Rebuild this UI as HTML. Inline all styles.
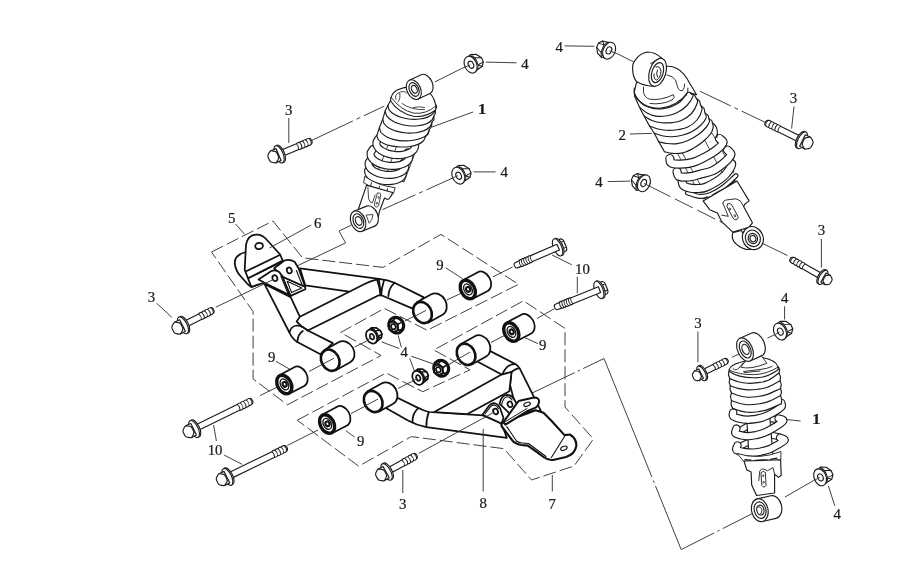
<!DOCTYPE html>
<html><head><meta charset="utf-8"><title>Suspension arm and shock absorber parts diagram</title>
<style>
html,body{margin:0;padding:0;background:#fff;}
svg{display:block;will-change:transform;font-family:"Liberation Serif","DejaVu Serif",serif;fill:#1a1a1a;}
</style></head>
<body>
<svg width="914" height="588" viewBox="0 0 914 588">
<rect x="0" y="0" width="914" height="588" fill="#fff" stroke="none"/>
<polygon points="211.5,252.0 273.0,221.0 302.5,257.8 383.0,267.4 441.0,234.4 518.5,284.3 427.2,330.3 384.4,308.4 340.6,332.5 381.1,355.5 287.4,404.8 253.1,378.9 253.1,311.6" fill="none" stroke="#363636" stroke-width="0.95" stroke-linejoin="round" stroke-dasharray="13 4"/>
<polygon points="297.3,420.2 386.1,373.0 422.8,391.7 470.0,369.8 433.8,350.0 523.5,300.8 565.0,328.4 565.0,407.0 593.4,439.0 574.0,466.0 531.5,480.0 504.0,448.7 411.3,436.6 358.7,466.2" fill="none" stroke="#363636" stroke-width="0.95" stroke-linejoin="round" stroke-dasharray="13 4"/>
<line x1="311.3" y1="140.6" x2="384.3" y2="106.1" stroke="#363636" stroke-width="0.95" stroke-dasharray="46 4 4 4"/>
<line x1="435.1" y1="81.8" x2="461.6" y2="68.5" stroke="#363636" stroke-width="0.95"/>
<line x1="382.6" y1="209.6" x2="452.5" y2="178.1" stroke="#363636" stroke-width="0.95" stroke-dasharray="36 4 4 4"/>
<polyline points="351.5,225.1 339.0,231.0 345.6,242.9 297.0,266.0" fill="none" stroke="#363636" stroke-width="0.95" stroke-linejoin="round"/>
<line x1="260.0" y1="395.6" x2="277.1" y2="387.1" stroke="#363636" stroke-width="0.95"/>
<line x1="309.2" y1="371.4" x2="330.2" y2="360.2" stroke="#363636" stroke-width="0.95"/>
<line x1="354.5" y1="347.1" x2="366.3" y2="341.2" stroke="#363636" stroke-width="0.95"/>
<line x1="404.8" y1="321.0" x2="422.5" y2="311.9" stroke="#363636" stroke-width="0.95"/>
<line x1="446.8" y1="300.0" x2="460.6" y2="293.5" stroke="#363636" stroke-width="0.95"/>
<line x1="492.9" y1="276.9" x2="512.6" y2="267.0" stroke="#363636" stroke-width="0.95"/>
<line x1="287.4" y1="445.4" x2="318.1" y2="430.0" stroke="#363636" stroke-width="0.95"/>
<line x1="351.0" y1="413.6" x2="374.0" y2="401.5" stroke="#363636" stroke-width="0.95"/>
<line x1="398.2" y1="388.4" x2="413.5" y2="380.7" stroke="#363636" stroke-width="0.95"/>
<line x1="448.4" y1="364.8" x2="466.1" y2="354.3" stroke="#363636" stroke-width="0.95"/>
<line x1="491.0" y1="342.5" x2="504.8" y2="335.3" stroke="#363636" stroke-width="0.95"/>
<line x1="536.8" y1="318.6" x2="554.3" y2="308.7" stroke="#363636" stroke-width="0.95"/>
<line x1="518.7" y1="399.5" x2="604.0" y2="358.5" stroke="#363636" stroke-width="0.95" stroke-dasharray="62 3.5 2.5 3.5 100"/>
<line x1="604.0" y1="358.5" x2="681.2" y2="549.6" stroke="#363636" stroke-width="0.95" stroke-dasharray="128 3.5 2.5 3.5 200"/>
<line x1="681.2" y1="549.6" x2="753.5" y2="513.0" stroke="#363636" stroke-width="0.95" stroke-dasharray="37 3.5 2.5 3.5 100"/>
<line x1="617.9" y1="54.0" x2="633.2" y2="61.7" stroke="#363636" stroke-width="0.95"/>
<line x1="700.1" y1="91.3" x2="765.5" y2="122.5" stroke="#363636" stroke-width="0.95" stroke-dasharray="34 4 4 4"/>
<line x1="652.6" y1="187.7" x2="745.0" y2="234.0" stroke="#363636" stroke-width="0.95" stroke-dasharray="20 5"/>
<line x1="753.5" y1="239.1" x2="787.5" y2="255.5" stroke="#363636" stroke-width="0.95"/>
<line x1="731.9" y1="357.3" x2="746.1" y2="350.7" stroke="#363636" stroke-width="0.95"/>
<line x1="767.4" y1="338.1" x2="775.6" y2="334.3" stroke="#363636" stroke-width="0.95"/>
<line x1="785.0" y1="497.0" x2="813.5" y2="480.6" stroke="#363636" stroke-width="0.95"/>
<path d="M300,268.4 L378.8,278.9 Q388,280 394.5,282.8 L423.8,297.4 L412.7,308.6 L381.4,295.3 L349.2,291.7 L305.3,285.4 Z" fill="#fff" stroke="#111" stroke-width="1.75" stroke-linejoin="round" stroke-linecap="round" />
<path d="M264.4,283.9 L289.4,332.5 Q292,338.5 297.3,342 L320.4,354.3 L332.9,343.1 L307.8,330.5 L299.9,316.8 L290.7,297.1 Z" fill="#fff" stroke="#111" stroke-width="1.75" stroke-linejoin="round" stroke-linecap="round" />
<path d="M299.9,316.8 L365.6,283.5 Q371,281 375.5,279.9 L378.8,278.9 L381,295.3 L378.8,295.3 L307.8,330.5 Q301,327 296.6,321.4 Z" fill="#fff" stroke="#111" stroke-width="1.75" stroke-linejoin="round" stroke-linecap="round" />
<path d="M377,279.6 Q380,287 380.5,295 M384,280.5 Q381.5,288 381.2,295" fill="none" stroke="#111" stroke-width="1.75" stroke-linejoin="round" stroke-linecap="round" />
<path d="M394.5,282.8 Q388.5,288 388.4,296.1" fill="none" stroke="#111" stroke-width="1.75" stroke-linejoin="round" stroke-linecap="round" />
<path d="M289.4,332.5 Q291,326 297,325.5 Q303,326 307.8,330.5" fill="none" stroke="#111" stroke-width="1.75" stroke-linejoin="round" stroke-linecap="round" />
<path d="M297.3,341.8 Q298,334 302.8,331" fill="none" stroke="#111" stroke-width="1.75" stroke-linejoin="round" stroke-linecap="round" />
<g transform="translate(422.5 312.5) rotate(-29.0)">
<path d="M0,-11.6 L16.5,-11.6 A9.3,11.6 0 0 1 16.5,11.6 L0,11.6 Z" fill="#fff" stroke="#111" stroke-width="1.75" stroke-linejoin="round" stroke-linecap="round" />
<ellipse cx="0.0" cy="0.0" rx="8.8" ry="11.1" transform="rotate(0.0 0.0 0.0)" fill="#fff" stroke="#111" stroke-width="2.6"/>
</g>
<g transform="translate(330.2 360.2) rotate(-29.0)">
<path d="M0,-11.6 L16.5,-11.6 A9.3,11.6 0 0 1 16.5,11.6 L0,11.6 Z" fill="#fff" stroke="#111" stroke-width="1.75" stroke-linejoin="round" stroke-linecap="round" />
<ellipse cx="0.0" cy="0.0" rx="8.8" ry="11.1" transform="rotate(0.0 0.0 0.0)" fill="#fff" stroke="#111" stroke-width="2.6"/>
</g>
<path d="M246,252 Q234,255 234.8,264 Q236,271 240,275.5 L248,284.5 L251.5,287 L258.5,284.5" fill="#fff" stroke="#111" stroke-width="1.75" stroke-linejoin="round" stroke-linecap="round" />
<path d="M248,278.2 L282.8,261.1 L288,262 L264,283 L257.8,284.7 L251.3,286.9 Z" fill="#fff" stroke="#111" stroke-width="1.75" stroke-linejoin="round" stroke-linecap="round" />
<path d="M282,276.5 L305.1,286.7 L305.4,289.2 L290.6,295.9 Z" fill="#fff" stroke="#111" stroke-width="1.75" stroke-linejoin="round" stroke-linecap="round" />
<path d="M287.2,281.2 L301.8,287.9 L291.6,292.6 Z" fill="none" stroke="#111" stroke-width="1.1" stroke-linejoin="round" stroke-linecap="round" />
<path d="M274.2,268.3 L284.1,260.7 Q289.3,258.6 294.6,261.8 L298.5,268.3 L305.1,286.7 L283.2,277 Z" fill="#fff" stroke="#111" stroke-width="1.75" stroke-linejoin="round" stroke-linecap="round" />
<path d="M296.4,270.5 L302.4,285.6" fill="none" stroke="#111" stroke-width="1.1" stroke-linejoin="round" stroke-linecap="round" />
<ellipse cx="289.3" cy="270.4" rx="2.4" ry="3.0" transform="rotate(-20.0 289.3 270.4)" fill="#fff" stroke="#111" stroke-width="1.75"/>
<path d="M258.5,279.5 L271,271.2 Q275.5,269.2 279.5,272.3 L282.8,277.5 L290,295.2 L264.4,282.8 Z" fill="#fff" stroke="#111" stroke-width="1.75" stroke-linejoin="round" stroke-linecap="round" />
<path d="M281,276.6 L288.6,295" fill="none" stroke="#111" stroke-width="1.1" stroke-linejoin="round" stroke-linecap="round" />
<ellipse cx="274.9" cy="278.2" rx="2.4" ry="3.0" transform="rotate(-20.0 274.9 278.2)" fill="#fff" stroke="#111" stroke-width="1.75"/>
<path d="M244.7,269.6 L246,244.7 Q248,234 257.8,234.6 Q263,235.2 267,240 L280.1,254.5 L282.8,260.6 L248,278.2 Z" fill="#fff" stroke="#111" stroke-width="1.75" stroke-linejoin="round" stroke-linecap="round" />
<path d="M246.7,271 L279.8,255" fill="none" stroke="#111" stroke-width="1.75" stroke-linejoin="round" stroke-linecap="round" />
<ellipse cx="259.1" cy="246.0" rx="3.9" ry="3.1" transform="rotate(-10.0 259.1 246.0)" fill="#fff" stroke="#111" stroke-width="1.75"/>
<path d="M482.5,347.1 L515.3,364.1 Q518.5,366 519.8,368.6 L540.9,410.9 L517,412 L510.1,385.1 L511.5,372 L501.6,374.6 L477.3,361.5 Z" fill="#fff" stroke="#111" stroke-width="1.75" stroke-linejoin="round" stroke-linecap="round" />
<path d="M390.3,394.3 L418.5,408.1 Q424,411 429,412 L483,415.4 L501.5,423.3 L506.8,437.8 L426.4,427.1 Q416,425 408,420.5 L385,407.4 Z" fill="#fff" stroke="#111" stroke-width="1.75" stroke-linejoin="round" stroke-linecap="round" />
<path d="M501.6,374.6 L434.3,412 L467,414.2 L509.4,391.2 L511.5,372 Z" fill="#fff" stroke="#111" stroke-width="1.75" stroke-linejoin="round" stroke-linecap="round" />
<path d="M418.5,408.1 Q412,413 412.5,422.5 M428.8,412 Q426,420 426.4,427" fill="none" stroke="#111" stroke-width="1.75" stroke-linejoin="round" stroke-linecap="round" />
<path d="M515.3,364.1 Q507,363.5 502.5,374" fill="none" stroke="#111" stroke-width="1.75" stroke-linejoin="round" stroke-linecap="round" />
<path d="M511.5,372 Q516,368 519.5,368.3" fill="none" stroke="#111" stroke-width="1.75" stroke-linejoin="round" stroke-linecap="round" />
<g transform="translate(373.2 401.5) rotate(-29.0)">
<path d="M0,-11.6 L16.5,-11.6 A9.3,11.6 0 0 1 16.5,11.6 L0,11.6 Z" fill="#fff" stroke="#111" stroke-width="1.75" stroke-linejoin="round" stroke-linecap="round" />
<ellipse cx="0.0" cy="0.0" rx="8.8" ry="11.1" transform="rotate(0.0 0.0 0.0)" fill="#fff" stroke="#111" stroke-width="2.6"/>
</g>
<g transform="translate(466.1 354.3) rotate(-29.0)">
<path d="M0,-11.6 L16.5,-11.6 A9.3,11.6 0 0 1 16.5,11.6 L0,11.6 Z" fill="#fff" stroke="#111" stroke-width="1.75" stroke-linejoin="round" stroke-linecap="round" />
<ellipse cx="0.0" cy="0.0" rx="8.8" ry="11.1" transform="rotate(0.0 0.0 0.0)" fill="#fff" stroke="#111" stroke-width="2.6"/>
</g>
<path d="M499.5,403.6 Q501.5,395 507,394.8 Q512,395 514,399 L519,408 L510,414 Z" fill="#fff" stroke="#111" stroke-width="1.75" stroke-linejoin="round" stroke-linecap="round" />
<path d="M501.8,404.2 Q503.2,397.2 507.2,396.8 Q510.5,397 512,400" fill="none" stroke="#111" stroke-width="1.1" stroke-linejoin="round" stroke-linecap="round" />
<ellipse cx="510.0" cy="404.3" rx="2.3" ry="2.9" transform="rotate(-25.0 510.0 404.3)" fill="#fff" stroke="#111" stroke-width="1.75"/>
<path d="M482.5,414.8 L489.2,405.5 Q492,402.5 495.5,403.5 Q498.5,404.5 500,408 L503.5,418 L501.5,423.6 Z" fill="#fff" stroke="#111" stroke-width="1.75" stroke-linejoin="round" stroke-linecap="round" />
<path d="M485,414 L490.6,406.6 Q492.6,404.6 495.3,405.4 Q497.4,406.2 498.4,408.6" fill="none" stroke="#111" stroke-width="1.1" stroke-linejoin="round" stroke-linecap="round" />
<ellipse cx="495.6" cy="411.5" rx="2.3" ry="2.9" transform="rotate(-25.0 495.6 411.5)" fill="#fff" stroke="#111" stroke-width="1.75"/>
<path d="M503,422.5 Q500.5,424 501.8,426.5 L513.3,441.7 Q517,444.5 521.2,445 L527.8,445.6 L537,452.2 L543.5,457 Q548,460.5 553,460 L566,457 Q575,454 576.3,446 Q576.8,439 570,434.5 L564.5,435.1 L551.4,420.7 L543.5,412.8 L535.6,410.2 Z" fill="#fff" stroke="#111" stroke-width="2.1" stroke-linejoin="round" stroke-linecap="round" />
<path d="M506.8,426.6 L516.5,441 Q519,442.8 522,443 L528.5,443.5 L546,456.5 M551.4,457.5 L564.5,436.5" fill="none" stroke="#111" stroke-width="1.1" stroke-linejoin="round" stroke-linecap="round" />
<path d="M503.5,422 L518.6,401 L534,397.5 Q539.5,397.5 539,402 Q538.5,406 535.6,407.6 L527.8,410.9 L505.4,424.6 Z" fill="#fff" stroke="#111" stroke-width="2.0" stroke-linejoin="round" stroke-linecap="round" />
<path d="M505.5,421.5 L527,408.5" fill="none" stroke="#111" stroke-width="1.0" stroke-linejoin="round" stroke-linecap="round" />
<ellipse cx="527.1" cy="404.3" rx="3.4" ry="1.9" transform="rotate(-22.0 527.1 404.3)" fill="#fff" stroke="#111" stroke-width="1.2"/>
<ellipse cx="563.9" cy="448.3" rx="3.4" ry="1.9" transform="rotate(-22.0 563.9 448.3)" fill="#fff" stroke="#111" stroke-width="1.2"/>
<line x1="485.8" y1="62.1" x2="516.5" y2="62.8" stroke="#363636" stroke-width="0.95"/>
<line x1="432.0" y1="127.0" x2="473.0" y2="112.0" stroke="#363636" stroke-width="0.95"/>
<line x1="288.8" y1="118.0" x2="288.8" y2="143.0" stroke="#363636" stroke-width="0.95"/>
<line x1="473.6" y1="171.9" x2="495.6" y2="171.9" stroke="#363636" stroke-width="0.95"/>
<line x1="235.5" y1="223.9" x2="244.7" y2="234.4" stroke="#363636" stroke-width="0.95"/>
<line x1="311.2" y1="225.0" x2="269.5" y2="248.0" stroke="#363636" stroke-width="0.95"/>
<line x1="156.6" y1="303.2" x2="171.9" y2="317.4" stroke="#363636" stroke-width="0.95"/>
<line x1="276.0" y1="361.3" x2="289.3" y2="369.0" stroke="#363636" stroke-width="0.95"/>
<line x1="213.6" y1="425.0" x2="216.4" y2="441.0" stroke="#363636" stroke-width="0.95"/>
<line x1="224.1" y1="455.0" x2="242.1" y2="464.4" stroke="#363636" stroke-width="0.95"/>
<line x1="345.8" y1="430.6" x2="354.6" y2="437.1" stroke="#363636" stroke-width="0.95"/>
<line x1="402.8" y1="470.0" x2="402.8" y2="493.0" stroke="#363636" stroke-width="0.95"/>
<line x1="483.2" y1="429.0" x2="483.2" y2="491.5" stroke="#363636" stroke-width="0.95"/>
<line x1="552.3" y1="475.0" x2="552.3" y2="491.4" stroke="#363636" stroke-width="0.95"/>
<line x1="399.2" y1="348.5" x2="381.7" y2="341.9" stroke="#363636" stroke-width="0.95"/>
<line x1="401.4" y1="347.4" x2="398.1" y2="335.4" stroke="#363636" stroke-width="0.95"/>
<line x1="411.3" y1="356.2" x2="433.2" y2="363.9" stroke="#363636" stroke-width="0.95"/>
<line x1="409.7" y1="358.4" x2="414.6" y2="371.5" stroke="#363636" stroke-width="0.95"/>
<line x1="445.5" y1="267.7" x2="462.6" y2="278.7" stroke="#363636" stroke-width="0.95"/>
<line x1="524.5" y1="337.5" x2="538.0" y2="343.6" stroke="#363636" stroke-width="0.95"/>
<line x1="552.1" y1="255.0" x2="571.8" y2="264.8" stroke="#363636" stroke-width="0.95"/>
<line x1="577.3" y1="276.9" x2="577.3" y2="293.3" stroke="#363636" stroke-width="0.95"/>
<line x1="564.6" y1="45.9" x2="594.4" y2="46.3" stroke="#363636" stroke-width="0.95"/>
<line x1="629.9" y1="134.0" x2="651.8" y2="133.4" stroke="#363636" stroke-width="0.95"/>
<line x1="794.0" y1="106.4" x2="791.6" y2="128.6" stroke="#363636" stroke-width="0.95"/>
<line x1="607.7" y1="181.6" x2="630.3" y2="181.1" stroke="#363636" stroke-width="0.95"/>
<line x1="821.4" y1="239.0" x2="821.4" y2="267.6" stroke="#363636" stroke-width="0.95"/>
<line x1="784.6" y1="306.3" x2="784.6" y2="319.5" stroke="#363636" stroke-width="0.95"/>
<line x1="697.9" y1="331.5" x2="697.9" y2="362.2" stroke="#363636" stroke-width="0.95"/>
<line x1="783.5" y1="419.2" x2="800.6" y2="421.0" stroke="#363636" stroke-width="0.95"/>
<line x1="828.4" y1="486.0" x2="834.8" y2="505.8" stroke="#363636" stroke-width="0.95"/>
<line x1="215.8" y1="307.2" x2="272.8" y2="279.8" stroke="#363636" stroke-width="0.95"/>
<line x1="418.8" y1="453.3" x2="494.0" y2="412.3" stroke="#363636" stroke-width="0.95"/>
<line x1="322.0" y1="364.5" x2="334.0" y2="358.2" stroke="#363636" stroke-width="0.95"/>
<line x1="414.5" y1="316.4" x2="426.0" y2="310.4" stroke="#363636" stroke-width="0.95"/>
<line x1="365.0" y1="406.0" x2="378.0" y2="399.0" stroke="#363636" stroke-width="0.95"/>
<line x1="458.0" y1="359.0" x2="470.0" y2="352.2" stroke="#363636" stroke-width="0.95"/>
<g transform="translate(467.8 289.5) rotate(-28.0)">
<path d="M0,-10.6 L17,-10.6 A7.6,10.6 0 0 1 17,10.6 L0,10.6 Z" fill="#fff" stroke="#111" stroke-width="1.7" stroke-linejoin="round" stroke-linecap="round" />
<ellipse cx="0.0" cy="0.0" rx="6.8" ry="9.8" transform="rotate(0.0 0.0 0.0)" fill="#fff" stroke="#111" stroke-width="3.4"/>
<ellipse cx="0.2" cy="0.0" rx="3.9" ry="5.8" transform="rotate(0.0 0.2 0.0)" fill="#fff" stroke="#111" stroke-width="1.3"/>
<ellipse cx="0.4" cy="0.0" rx="2.0" ry="2.5" transform="rotate(0.0 0.4 0.0)" fill="#fff" stroke="#111" stroke-width="2.2"/>
</g>
<g transform="translate(511.3 332.0) rotate(-28.0)">
<path d="M0,-10.6 L17,-10.6 A7.6,10.6 0 0 1 17,10.6 L0,10.6 Z" fill="#fff" stroke="#111" stroke-width="1.7" stroke-linejoin="round" stroke-linecap="round" />
<ellipse cx="0.0" cy="0.0" rx="6.8" ry="9.8" transform="rotate(0.0 0.0 0.0)" fill="#fff" stroke="#111" stroke-width="3.4"/>
<ellipse cx="0.2" cy="0.0" rx="3.9" ry="5.8" transform="rotate(0.0 0.2 0.0)" fill="#fff" stroke="#111" stroke-width="1.3"/>
<ellipse cx="0.4" cy="0.0" rx="2.0" ry="2.5" transform="rotate(0.0 0.4 0.0)" fill="#fff" stroke="#111" stroke-width="2.2"/>
</g>
<g transform="translate(284.3 384.5) rotate(-28.0)">
<path d="M0,-10.6 L17,-10.6 A7.6,10.6 0 0 1 17,10.6 L0,10.6 Z" fill="#fff" stroke="#111" stroke-width="1.7" stroke-linejoin="round" stroke-linecap="round" />
<ellipse cx="0.0" cy="0.0" rx="6.8" ry="9.8" transform="rotate(0.0 0.0 0.0)" fill="#fff" stroke="#111" stroke-width="3.4"/>
<ellipse cx="0.2" cy="0.0" rx="3.9" ry="5.8" transform="rotate(0.0 0.2 0.0)" fill="#fff" stroke="#111" stroke-width="1.3"/>
<ellipse cx="0.4" cy="0.0" rx="2.0" ry="2.5" transform="rotate(0.0 0.4 0.0)" fill="#fff" stroke="#111" stroke-width="2.2"/>
</g>
<g transform="translate(327.1 424.0) rotate(-28.0)">
<path d="M0,-10.6 L17,-10.6 A7.6,10.6 0 0 1 17,10.6 L0,10.6 Z" fill="#fff" stroke="#111" stroke-width="1.7" stroke-linejoin="round" stroke-linecap="round" />
<ellipse cx="0.0" cy="0.0" rx="6.8" ry="9.8" transform="rotate(0.0 0.0 0.0)" fill="#fff" stroke="#111" stroke-width="3.4"/>
<ellipse cx="0.2" cy="0.0" rx="3.9" ry="5.8" transform="rotate(0.0 0.2 0.0)" fill="#fff" stroke="#111" stroke-width="1.3"/>
<ellipse cx="0.4" cy="0.0" rx="2.0" ry="2.5" transform="rotate(0.0 0.4 0.0)" fill="#fff" stroke="#111" stroke-width="2.2"/>
</g>
<g transform="translate(279.7 154.1) rotate(-22.7)">
<path d="M0,-3.1 L19.4,-3.1 Q21.1,-4.1 22.8,-3.1 Q24.5,-4.1 26.2,-3.1 Q27.9,-4.1 29.6,-3.1 Q31.3,-4.1 33.0,-3.1 C35.4,-2.8 35.4,2.8 33.0,2.8 Q31.3,4.1 29.6,3.1 Q27.9,4.1 26.2,3.1 Q24.5,4.1 22.8,3.1 Q21.1,4.1 19.4,3.1 L0,3.1 Z" fill="#fff" stroke="#1c1c1c" stroke-width="1.15" stroke-linejoin="round" stroke-linecap="round" />
<path d="M19.4,-3.1 Q20.9,0 19.4,3.1 M22.8,-3.1 Q24.3,0 22.8,3.1 M26.2,-3.1 Q27.7,0 26.2,3.1 M29.6,-3.1 Q31.1,0 29.6,3.1 M33.0,-3.1 Q34.5,0 33.0,3.1 " fill="none" stroke="#1c1c1c" stroke-width="0.9" stroke-linejoin="round" stroke-linecap="round" />
<ellipse cx="0.7" cy="0.0" rx="4.1" ry="9.2" transform="rotate(0.0 0.7 0.0)" fill="#fff" stroke="#1c1c1c" stroke-width="1.15"/>
<ellipse cx="-0.7" cy="0.0" rx="4.1" ry="9.2" transform="rotate(0.0 -0.7 0.0)" fill="#fff" stroke="#1c1c1c" stroke-width="1.15"/>
<polygon points="-1.2,-6.4 -7.0,-6.6 -7.0,6.6 -1.2,6.4" fill="#fff" stroke="#1c1c1c" stroke-width="1.15" stroke-linejoin="round"/>
<line x1="-2.6" y1="-3.3" x2="-1.4" y2="-3.3" stroke="#363636" stroke-width="0.9"/>
<line x1="-2.6" y1="3.3" x2="-1.4" y2="3.3" stroke="#363636" stroke-width="0.9"/>
<path d="M-2.1,1.5 Q-2.1,3.4 -3.5,4.4 L-5.6,5.9 Q-7.0,6.9 -8.4,5.9 L-10.5,4.4 Q-11.9,3.4 -11.9,1.5 L-11.9,-1.5 Q-11.9,-3.4 -10.5,-4.4 L-8.4,-5.9 Q-7.0,-6.9 -5.6,-5.9 L-3.5,-4.4 Q-2.1,-3.4 -2.1,-1.5 Z" fill="#fff" stroke="#1c1c1c" stroke-width="1.15" stroke-linejoin="round" stroke-linecap="round" />
</g>
<g transform="translate(183.6 325.0) rotate(-26.9)">
<path d="M0,-3.1 L18.4,-3.1 Q20.1,-4.1 21.8,-3.1 Q23.5,-4.1 25.2,-3.1 Q26.9,-4.1 28.6,-3.1 Q30.3,-4.1 32.0,-3.1 C34.4,-2.8 34.4,2.8 32.0,2.8 Q30.3,4.1 28.6,3.1 Q26.9,4.1 25.2,3.1 Q23.5,4.1 21.8,3.1 Q20.1,4.1 18.4,3.1 L0,3.1 Z" fill="#fff" stroke="#1c1c1c" stroke-width="1.15" stroke-linejoin="round" stroke-linecap="round" />
<path d="M18.4,-3.1 Q19.9,0 18.4,3.1 M21.8,-3.1 Q23.3,0 21.8,3.1 M25.2,-3.1 Q26.7,0 25.2,3.1 M28.6,-3.1 Q30.1,0 28.6,3.1 M32.0,-3.1 Q33.5,0 32.0,3.1 " fill="none" stroke="#1c1c1c" stroke-width="0.9" stroke-linejoin="round" stroke-linecap="round" />
<ellipse cx="0.7" cy="0.0" rx="4.1" ry="9.2" transform="rotate(0.0 0.7 0.0)" fill="#fff" stroke="#1c1c1c" stroke-width="1.15"/>
<ellipse cx="-0.7" cy="0.0" rx="4.1" ry="9.2" transform="rotate(0.0 -0.7 0.0)" fill="#fff" stroke="#1c1c1c" stroke-width="1.15"/>
<polygon points="-1.2,-6.4 -7.0,-6.6 -7.0,6.6 -1.2,6.4" fill="#fff" stroke="#1c1c1c" stroke-width="1.15" stroke-linejoin="round"/>
<line x1="-2.6" y1="-3.3" x2="-1.4" y2="-3.3" stroke="#363636" stroke-width="0.9"/>
<line x1="-2.6" y1="3.3" x2="-1.4" y2="3.3" stroke="#363636" stroke-width="0.9"/>
<path d="M-2.1,1.5 Q-2.1,3.4 -3.5,4.4 L-5.6,5.9 Q-7.0,6.9 -8.4,5.9 L-10.5,4.4 Q-11.9,3.4 -11.9,1.5 L-11.9,-1.5 Q-11.9,-3.4 -10.5,-4.4 L-8.4,-5.9 Q-7.0,-6.9 -5.6,-5.9 L-3.5,-4.4 Q-2.1,-3.4 -2.1,-1.5 Z" fill="#fff" stroke="#1c1c1c" stroke-width="1.15" stroke-linejoin="round" stroke-linecap="round" />
</g>
<g transform="translate(387.2 471.6) rotate(-28.8)">
<path d="M0,-3.1 L18.4,-3.1 Q20.1,-4.1 21.8,-3.1 Q23.5,-4.1 25.2,-3.1 Q26.9,-4.1 28.6,-3.1 Q30.3,-4.1 32.0,-3.1 C34.4,-2.8 34.4,2.8 32.0,2.8 Q30.3,4.1 28.6,3.1 Q26.9,4.1 25.2,3.1 Q23.5,4.1 21.8,3.1 Q20.1,4.1 18.4,3.1 L0,3.1 Z" fill="#fff" stroke="#1c1c1c" stroke-width="1.15" stroke-linejoin="round" stroke-linecap="round" />
<path d="M18.4,-3.1 Q19.9,0 18.4,3.1 M21.8,-3.1 Q23.3,0 21.8,3.1 M25.2,-3.1 Q26.7,0 25.2,3.1 M28.6,-3.1 Q30.1,0 28.6,3.1 M32.0,-3.1 Q33.5,0 32.0,3.1 " fill="none" stroke="#1c1c1c" stroke-width="0.9" stroke-linejoin="round" stroke-linecap="round" />
<ellipse cx="0.7" cy="0.0" rx="4.1" ry="9.2" transform="rotate(0.0 0.7 0.0)" fill="#fff" stroke="#1c1c1c" stroke-width="1.15"/>
<ellipse cx="-0.7" cy="0.0" rx="4.1" ry="9.2" transform="rotate(0.0 -0.7 0.0)" fill="#fff" stroke="#1c1c1c" stroke-width="1.15"/>
<polygon points="-1.2,-6.4 -7.0,-6.6 -7.0,6.6 -1.2,6.4" fill="#fff" stroke="#1c1c1c" stroke-width="1.15" stroke-linejoin="round"/>
<line x1="-2.6" y1="-3.3" x2="-1.4" y2="-3.3" stroke="#363636" stroke-width="0.9"/>
<line x1="-2.6" y1="3.3" x2="-1.4" y2="3.3" stroke="#363636" stroke-width="0.9"/>
<path d="M-2.1,1.5 Q-2.1,3.4 -3.5,4.4 L-5.6,5.9 Q-7.0,6.9 -8.4,5.9 L-10.5,4.4 Q-11.9,3.4 -11.9,1.5 L-11.9,-1.5 Q-11.9,-3.4 -10.5,-4.4 L-8.4,-5.9 Q-7.0,-6.9 -5.6,-5.9 L-3.5,-4.4 Q-2.1,-3.4 -2.1,-1.5 Z" fill="#fff" stroke="#1c1c1c" stroke-width="1.15" stroke-linejoin="round" stroke-linecap="round" />
</g>
<g transform="translate(801.4 140.0) rotate(-153.7)">
<path d="M0,-3.1 L24.8,-3.1 Q26.5,-4.1 28.2,-3.1 Q29.9,-4.1 31.6,-3.1 Q33.3,-4.1 35.0,-3.1 Q36.7,-4.1 38.4,-3.1 C40.8,-2.8 40.8,2.8 38.4,2.8 Q36.7,4.1 35.0,3.1 Q33.3,4.1 31.6,3.1 Q29.9,4.1 28.2,3.1 Q26.5,4.1 24.8,3.1 L0,3.1 Z" fill="#fff" stroke="#1c1c1c" stroke-width="1.15" stroke-linejoin="round" stroke-linecap="round" />
<path d="M24.8,-3.1 Q26.3,0 24.8,3.1 M28.2,-3.1 Q29.7,0 28.2,3.1 M31.6,-3.1 Q33.1,0 31.6,3.1 M35.0,-3.1 Q36.5,0 35.0,3.1 M38.4,-3.1 Q39.9,0 38.4,3.1 " fill="none" stroke="#1c1c1c" stroke-width="0.9" stroke-linejoin="round" stroke-linecap="round" />
<ellipse cx="0.7" cy="0.0" rx="4.1" ry="9.2" transform="rotate(0.0 0.7 0.0)" fill="#fff" stroke="#1c1c1c" stroke-width="1.15"/>
<ellipse cx="-0.7" cy="0.0" rx="4.1" ry="9.2" transform="rotate(0.0 -0.7 0.0)" fill="#fff" stroke="#1c1c1c" stroke-width="1.15"/>
<polygon points="-1.2,-6.4 -7.0,-6.6 -7.0,6.6 -1.2,6.4" fill="#fff" stroke="#1c1c1c" stroke-width="1.15" stroke-linejoin="round"/>
<line x1="-2.6" y1="-3.3" x2="-1.4" y2="-3.3" stroke="#363636" stroke-width="0.9"/>
<line x1="-2.6" y1="3.3" x2="-1.4" y2="3.3" stroke="#363636" stroke-width="0.9"/>
<path d="M-2.1,1.5 Q-2.1,3.4 -3.5,4.4 L-5.6,5.9 Q-7.0,6.9 -8.4,5.9 L-10.5,4.4 Q-11.9,3.4 -11.9,1.5 L-11.9,-1.5 Q-11.9,-3.4 -10.5,-4.4 L-8.4,-5.9 Q-7.0,-6.9 -5.6,-5.9 L-3.5,-4.4 Q-2.1,-3.4 -2.1,-1.5 Z" fill="#fff" stroke="#1c1c1c" stroke-width="1.15" stroke-linejoin="round" stroke-linecap="round" />
</g>
<g transform="translate(822.4 277.0) rotate(-150.3)">
<path d="M0,-2.8 L21.5,-2.8 Q23.2,-3.8 24.9,-2.8 Q26.6,-3.8 28.3,-2.8 Q30.0,-3.8 31.7,-2.8 Q33.4,-3.8 35.1,-2.8 C37.6,-2.5 37.6,2.5 35.1,2.5 Q33.4,3.8 31.7,2.8 Q30.0,3.8 28.3,2.8 Q26.6,3.8 24.9,2.8 Q23.2,3.8 21.5,2.8 L0,2.8 Z" fill="#fff" stroke="#1c1c1c" stroke-width="1.15" stroke-linejoin="round" stroke-linecap="round" />
<path d="M21.5,-2.8 Q23.0,0 21.5,2.8 M24.9,-2.8 Q26.4,0 24.9,2.8 M28.3,-2.8 Q29.8,0 28.3,2.8 M31.7,-2.8 Q33.2,0 31.7,2.8 M35.1,-2.8 Q36.6,0 35.1,2.8 " fill="none" stroke="#1c1c1c" stroke-width="0.9" stroke-linejoin="round" stroke-linecap="round" />
<ellipse cx="0.7" cy="0.0" rx="3.6" ry="8.0" transform="rotate(0.0 0.7 0.0)" fill="#fff" stroke="#1c1c1c" stroke-width="1.15"/>
<ellipse cx="-0.7" cy="0.0" rx="3.6" ry="8.0" transform="rotate(0.0 -0.7 0.0)" fill="#fff" stroke="#1c1c1c" stroke-width="1.15"/>
<polygon points="-1.2,-5.2 -6.0,-5.4 -6.0,5.4 -1.2,5.2" fill="#fff" stroke="#1c1c1c" stroke-width="1.15" stroke-linejoin="round"/>
<line x1="-2.4" y1="-2.7" x2="-1.4" y2="-2.7" stroke="#363636" stroke-width="0.9"/>
<line x1="-2.4" y1="2.7" x2="-1.4" y2="2.7" stroke="#363636" stroke-width="0.9"/>
<path d="M-2.0,1.2 Q-2.0,2.8 -3.1,3.6 L-4.9,4.8 Q-6.0,5.6 -7.1,4.8 L-8.9,3.6 Q-10.0,2.8 -10.0,1.2 L-10.0,-1.2 Q-10.0,-2.8 -8.9,-3.6 L-7.1,-4.8 Q-6.0,-5.6 -4.9,-4.8 L-3.1,-3.6 Q-2.0,-2.8 -2.0,-1.2 Z" fill="#fff" stroke="#1c1c1c" stroke-width="1.15" stroke-linejoin="round" stroke-linecap="round" />
</g>
<g transform="translate(702.2 373.1) rotate(-26.7)">
<path d="M0,-2.8 L13.4,-2.8 Q15.1,-3.8 16.8,-2.8 Q18.5,-3.8 20.2,-2.8 Q21.9,-3.8 23.6,-2.8 Q25.3,-3.8 27.0,-2.8 C29.4,-2.5 29.4,2.5 27.0,2.5 Q25.3,3.8 23.6,2.8 Q21.9,3.8 20.2,2.8 Q18.5,3.8 16.8,2.8 Q15.1,3.8 13.4,2.8 L0,2.8 Z" fill="#fff" stroke="#1c1c1c" stroke-width="1.15" stroke-linejoin="round" stroke-linecap="round" />
<path d="M13.4,-2.8 Q14.9,0 13.4,2.8 M16.8,-2.8 Q18.3,0 16.8,2.8 M20.2,-2.8 Q21.7,0 20.2,2.8 M23.6,-2.8 Q25.1,0 23.6,2.8 M27.0,-2.8 Q28.5,0 27.0,2.8 " fill="none" stroke="#1c1c1c" stroke-width="0.9" stroke-linejoin="round" stroke-linecap="round" />
<ellipse cx="0.7" cy="0.0" rx="3.6" ry="8.0" transform="rotate(0.0 0.7 0.0)" fill="#fff" stroke="#1c1c1c" stroke-width="1.15"/>
<ellipse cx="-0.7" cy="0.0" rx="3.6" ry="8.0" transform="rotate(0.0 -0.7 0.0)" fill="#fff" stroke="#1c1c1c" stroke-width="1.15"/>
<polygon points="-1.2,-5.2 -6.0,-5.4 -6.0,5.4 -1.2,5.2" fill="#fff" stroke="#1c1c1c" stroke-width="1.15" stroke-linejoin="round"/>
<line x1="-2.4" y1="-2.7" x2="-1.4" y2="-2.7" stroke="#363636" stroke-width="0.9"/>
<line x1="-2.4" y1="2.7" x2="-1.4" y2="2.7" stroke="#363636" stroke-width="0.9"/>
<path d="M-2.0,1.2 Q-2.0,2.8 -3.1,3.6 L-4.9,4.8 Q-6.0,5.6 -7.1,4.8 L-8.9,3.6 Q-10.0,2.8 -10.0,1.2 L-10.0,-1.2 Q-10.0,-2.8 -8.9,-3.6 L-7.1,-4.8 Q-6.0,-5.6 -4.9,-4.8 L-3.1,-3.6 Q-2.0,-2.8 -2.0,-1.2 Z" fill="#fff" stroke="#1c1c1c" stroke-width="1.15" stroke-linejoin="round" stroke-linecap="round" />
</g>
<g transform="translate(194.7 428.7) rotate(-26.0)">
<path d="M0,-3.1 L48.9,-3.1 Q50.6,-4.1 52.3,-3.1 Q54.0,-4.1 55.7,-3.1 Q57.4,-4.1 59.1,-3.1 Q60.8,-4.1 62.5,-3.1 C64.9,-2.8 64.9,2.8 62.5,2.8 Q60.8,4.1 59.1,3.1 Q57.4,4.1 55.7,3.1 Q54.0,4.1 52.3,3.1 Q50.6,4.1 48.9,3.1 L0,3.1 Z" fill="#fff" stroke="#1c1c1c" stroke-width="1.15" stroke-linejoin="round" stroke-linecap="round" />
<path d="M48.9,-3.1 Q50.4,0 48.9,3.1 M52.3,-3.1 Q53.8,0 52.3,3.1 M55.7,-3.1 Q57.2,0 55.7,3.1 M59.1,-3.1 Q60.6,0 59.1,3.1 M62.5,-3.1 Q64.0,0 62.5,3.1 " fill="none" stroke="#1c1c1c" stroke-width="0.9" stroke-linejoin="round" stroke-linecap="round" />
<ellipse cx="0.7" cy="0.0" rx="4.1" ry="9.2" transform="rotate(0.0 0.7 0.0)" fill="#fff" stroke="#1c1c1c" stroke-width="1.15"/>
<ellipse cx="-0.7" cy="0.0" rx="4.1" ry="9.2" transform="rotate(0.0 -0.7 0.0)" fill="#fff" stroke="#1c1c1c" stroke-width="1.15"/>
<polygon points="-1.2,-6.4 -7.0,-6.6 -7.0,6.6 -1.2,6.4" fill="#fff" stroke="#1c1c1c" stroke-width="1.15" stroke-linejoin="round"/>
<line x1="-2.6" y1="-3.3" x2="-1.4" y2="-3.3" stroke="#363636" stroke-width="0.9"/>
<line x1="-2.6" y1="3.3" x2="-1.4" y2="3.3" stroke="#363636" stroke-width="0.9"/>
<path d="M-2.1,1.5 Q-2.1,3.4 -3.5,4.4 L-5.6,5.9 Q-7.0,6.9 -8.4,5.9 L-10.5,4.4 Q-11.9,3.4 -11.9,1.5 L-11.9,-1.5 Q-11.9,-3.4 -10.5,-4.4 L-8.4,-5.9 Q-7.0,-6.9 -5.6,-5.9 L-3.5,-4.4 Q-2.1,-3.4 -2.1,-1.5 Z" fill="#fff" stroke="#1c1c1c" stroke-width="1.15" stroke-linejoin="round" stroke-linecap="round" />
</g>
<g transform="translate(228.0 476.6) rotate(-26.1)">
<path d="M0,-3.1 L50.4,-3.1 Q52.1,-4.1 53.8,-3.1 Q55.5,-4.1 57.2,-3.1 Q58.9,-4.1 60.6,-3.1 Q62.3,-4.1 64.0,-3.1 C66.4,-2.8 66.4,2.8 64.0,2.8 Q62.3,4.1 60.6,3.1 Q58.9,4.1 57.2,3.1 Q55.5,4.1 53.8,3.1 Q52.1,4.1 50.4,3.1 L0,3.1 Z" fill="#fff" stroke="#1c1c1c" stroke-width="1.15" stroke-linejoin="round" stroke-linecap="round" />
<path d="M50.4,-3.1 Q51.9,0 50.4,3.1 M53.8,-3.1 Q55.3,0 53.8,3.1 M57.2,-3.1 Q58.7,0 57.2,3.1 M60.6,-3.1 Q62.1,0 60.6,3.1 M64.0,-3.1 Q65.5,0 64.0,3.1 " fill="none" stroke="#1c1c1c" stroke-width="0.9" stroke-linejoin="round" stroke-linecap="round" />
<ellipse cx="0.7" cy="0.0" rx="4.1" ry="9.2" transform="rotate(0.0 0.7 0.0)" fill="#fff" stroke="#1c1c1c" stroke-width="1.15"/>
<ellipse cx="-0.7" cy="0.0" rx="4.1" ry="9.2" transform="rotate(0.0 -0.7 0.0)" fill="#fff" stroke="#1c1c1c" stroke-width="1.15"/>
<polygon points="-1.2,-6.4 -7.0,-6.6 -7.0,6.6 -1.2,6.4" fill="#fff" stroke="#1c1c1c" stroke-width="1.15" stroke-linejoin="round"/>
<line x1="-2.6" y1="-3.3" x2="-1.4" y2="-3.3" stroke="#363636" stroke-width="0.9"/>
<line x1="-2.6" y1="3.3" x2="-1.4" y2="3.3" stroke="#363636" stroke-width="0.9"/>
<path d="M-2.1,1.5 Q-2.1,3.4 -3.5,4.4 L-5.6,5.9 Q-7.0,6.9 -8.4,5.9 L-10.5,4.4 Q-11.9,3.4 -11.9,1.5 L-11.9,-1.5 Q-11.9,-3.4 -10.5,-4.4 L-8.4,-5.9 Q-7.0,-6.9 -5.6,-5.9 L-3.5,-4.4 Q-2.1,-3.4 -2.1,-1.5 Z" fill="#fff" stroke="#1c1c1c" stroke-width="1.15" stroke-linejoin="round" stroke-linecap="round" />
</g>
<g transform="translate(558.2 247.1) rotate(156.6)">
<path d="M0,-6.6 L-5.5,-6.6 Q-7.5,-5.9 -7.5,-3.3 L-7.5,3.3 Q-7.5,5.9 -5.5,6.6 L0,6.6 Z" fill="#fff" stroke="#1c1c1c" stroke-width="1.15" stroke-linejoin="round" stroke-linecap="round" />
<path d="M-2,-3.3 L-7.5,-3.3 M-2,3.3 L-7.5,3.3" fill="none" stroke="#1c1c1c" stroke-width="0.9" stroke-linejoin="round" stroke-linecap="round" />
<ellipse cx="-0.7" cy="0.0" rx="4.1" ry="9.2" transform="rotate(0.0 -0.7 0.0)" fill="#fff" stroke="#1c1c1c" stroke-width="1.15"/>
<ellipse cx="0.7" cy="0.0" rx="4.1" ry="9.2" transform="rotate(0.0 0.7 0.0)" fill="#fff" stroke="#1c1c1c" stroke-width="1.15"/>
<path d="M0,-3.1 L29.3,-3.1 Q30.5,-4.1 31.7,-3.1 Q32.9,-4.1 34.1,-3.1 Q35.3,-4.1 36.5,-3.1 Q37.7,-4.1 38.9,-3.1 Q40.1,-4.1 41.3,-3.1 L45.8,-2.8 C48.2,-2.8 48.2,2.8 45.8,2.8 L41.3,3.1 Q40.1,4.1 38.9,3.1 Q37.7,4.1 36.5,3.1 Q35.3,4.1 34.1,3.1 Q32.9,4.1 31.7,3.1 Q30.5,4.1 29.3,3.1 L0,3.1 Z" fill="#fff" stroke="#1c1c1c" stroke-width="1.15" stroke-linejoin="round" stroke-linecap="round" />
<path d="M29.3,-3.1 Q30.8,0 29.3,3.1 M31.7,-3.1 Q33.2,0 31.7,3.1 M34.1,-3.1 Q35.6,0 34.1,3.1 M36.5,-3.1 Q38.0,0 36.5,3.1 M38.9,-3.1 Q40.4,0 38.9,3.1 M41.3,-3.1 Q42.8,0 41.3,3.1 " fill="none" stroke="#1c1c1c" stroke-width="0.9" stroke-linejoin="round" stroke-linecap="round" />
</g>
<g transform="translate(599.5 289.7) rotate(158.2)">
<path d="M0,-6.6 L-5.5,-6.6 Q-7.5,-5.9 -7.5,-3.3 L-7.5,3.3 Q-7.5,5.9 -5.5,6.6 L0,6.6 Z" fill="#fff" stroke="#1c1c1c" stroke-width="1.15" stroke-linejoin="round" stroke-linecap="round" />
<path d="M-2,-3.3 L-7.5,-3.3 M-2,3.3 L-7.5,3.3" fill="none" stroke="#1c1c1c" stroke-width="0.9" stroke-linejoin="round" stroke-linecap="round" />
<ellipse cx="-0.7" cy="0.0" rx="4.1" ry="9.2" transform="rotate(0.0 -0.7 0.0)" fill="#fff" stroke="#1c1c1c" stroke-width="1.15"/>
<ellipse cx="0.7" cy="0.0" rx="4.1" ry="9.2" transform="rotate(0.0 0.7 0.0)" fill="#fff" stroke="#1c1c1c" stroke-width="1.15"/>
<path d="M0,-3.1 L29.9,-3.1 Q31.1,-4.1 32.3,-3.1 Q33.5,-4.1 34.7,-3.1 Q35.9,-4.1 37.1,-3.1 Q38.3,-4.1 39.5,-3.1 Q40.7,-4.1 41.9,-3.1 L46.4,-2.8 C48.9,-2.8 48.9,2.8 46.4,2.8 L41.9,3.1 Q40.7,4.1 39.5,3.1 Q38.3,4.1 37.1,3.1 Q35.9,4.1 34.7,3.1 Q33.5,4.1 32.3,3.1 Q31.1,4.1 29.9,3.1 L0,3.1 Z" fill="#fff" stroke="#1c1c1c" stroke-width="1.15" stroke-linejoin="round" stroke-linecap="round" />
<path d="M29.9,-3.1 Q31.4,0 29.9,3.1 M32.3,-3.1 Q33.8,0 32.3,3.1 M34.7,-3.1 Q36.2,0 34.7,3.1 M37.1,-3.1 Q38.6,0 37.1,3.1 M39.5,-3.1 Q41.0,0 39.5,3.1 M41.9,-3.1 Q43.4,0 41.9,3.1 " fill="none" stroke="#1c1c1c" stroke-width="0.9" stroke-linejoin="round" stroke-linecap="round" />
</g>
<path d="M392,136 L418,145 L404,182 L378,172 Z" fill="#fff" stroke="#1c1c1c" stroke-width="0.8" stroke-linejoin="round" stroke-linecap="round" />
<path d="M399,139.5 L386.5,174 M412,143.5 L399,179" fill="none" stroke="#1c1c1c" stroke-width="0.8" stroke-linejoin="round" stroke-linecap="round" />
<path d="M370.0,167.5 C369.4,168.6 368.3,169.6 368.1,170.7 C367.9,171.8 368.2,173.0 369.0,174.1 C369.7,175.2 370.9,176.4 372.4,177.3 C374.0,178.2 376.0,179.1 378.0,179.7 C380.1,180.3 382.5,180.8 384.8,181.0 C387.0,181.2 389.5,181.1 391.6,180.9 C393.8,180.6 395.9,180.1 397.5,179.5 C399.2,178.8 400.6,177.9 401.5,177.0 C402.4,176.0 402.9,174.8 402.9,173.7 C403.0,172.6 402.1,171.4 401.6,170.3" fill="none" stroke="#1c1c1c" stroke-width="8.15" stroke-linecap="round" stroke-linejoin="round"/>
<path d="M370.0,167.5 C369.4,168.6 368.3,169.6 368.1,170.7 C367.9,171.8 368.2,173.0 369.0,174.1 C369.7,175.2 370.9,176.4 372.4,177.3 C374.0,178.2 376.0,179.1 378.0,179.7 C380.1,180.3 382.5,180.8 384.8,181.0 C387.0,181.2 389.5,181.1 391.6,180.9 C393.8,180.6 395.9,180.1 397.5,179.5 C399.2,178.8 400.6,177.9 401.5,177.0 C402.4,176.0 402.9,174.8 402.9,173.7 C403.0,172.6 402.1,171.4 401.6,170.3" fill="none" stroke="#fff" stroke-width="5.85" stroke-linecap="round" stroke-linejoin="round"/>
<path d="M370.7,159.4 C370.0,160.6 368.8,161.8 368.6,163.0 C368.4,164.3 368.7,165.7 369.5,167.0 C370.2,168.3 371.6,169.6 373.1,170.6 C374.7,171.7 376.8,172.7 379.0,173.4 C381.2,174.0 383.7,174.6 386.1,174.8 C388.5,175.0 391.2,174.9 393.4,174.6 C395.7,174.3 397.9,173.7 399.7,172.9 C401.4,172.2 402.9,171.1 403.9,170.0 C404.9,168.9 405.4,167.5 405.4,166.3 C405.5,165.0 404.5,163.6 404.1,162.3" fill="none" stroke="#1c1c1c" stroke-width="8.15" stroke-linecap="round" stroke-linejoin="round"/>
<path d="M370.7,159.4 C370.0,160.6 368.8,161.8 368.6,163.0 C368.4,164.3 368.7,165.7 369.5,167.0 C370.2,168.3 371.6,169.6 373.1,170.6 C374.7,171.7 376.8,172.7 379.0,173.4 C381.2,174.0 383.7,174.6 386.1,174.8 C388.5,175.0 391.2,174.9 393.4,174.6 C395.7,174.3 397.9,173.7 399.7,172.9 C401.4,172.2 402.9,171.1 403.9,170.0 C404.9,168.9 405.4,167.5 405.4,166.3 C405.5,165.0 404.5,163.6 404.1,162.3" fill="none" stroke="#fff" stroke-width="5.85" stroke-linecap="round" stroke-linejoin="round"/>
<path d="M372.8,149.3 C372.1,150.6 370.8,151.9 370.6,153.2 C370.4,154.6 370.7,156.1 371.5,157.5 C372.3,158.8 373.7,160.2 375.4,161.3 C377.1,162.5 379.3,163.5 381.6,164.3 C383.8,165.0 386.6,165.5 389.1,165.8 C391.6,166.0 394.4,165.9 396.7,165.6 C399.1,165.3 401.5,164.6 403.3,163.8 C405.2,163.0 406.8,161.8 407.8,160.6 C408.8,159.4 409.4,158.0 409.4,156.6 C409.5,155.3 408.5,153.8 408.0,152.4" fill="none" stroke="#1c1c1c" stroke-width="8.15" stroke-linecap="round" stroke-linejoin="round"/>
<path d="M372.8,149.3 C372.1,150.6 370.8,151.9 370.6,153.2 C370.4,154.6 370.7,156.1 371.5,157.5 C372.3,158.8 373.7,160.2 375.4,161.3 C377.1,162.5 379.3,163.5 381.6,164.3 C383.8,165.0 386.6,165.5 389.1,165.8 C391.6,166.0 394.4,165.9 396.7,165.6 C399.1,165.3 401.5,164.6 403.3,163.8 C405.2,163.0 406.8,161.8 407.8,160.6 C408.8,159.4 409.4,158.0 409.4,156.6 C409.5,155.3 408.5,153.8 408.0,152.4" fill="none" stroke="#fff" stroke-width="5.85" stroke-linecap="round" stroke-linejoin="round"/>
<path d="M378.6,138.5 C377.9,139.8 376.6,141.1 376.4,142.4 C376.2,143.8 376.5,145.3 377.3,146.7 C378.1,148.0 379.5,149.4 381.2,150.5 C382.9,151.7 385.1,152.7 387.4,153.5 C389.6,154.2 392.4,154.7 394.9,155.0 C397.4,155.2 400.2,155.1 402.5,154.8 C404.9,154.5 407.3,153.8 409.1,153.0 C411.0,152.2 412.6,151.0 413.6,149.8 C414.6,148.6 415.2,147.2 415.2,145.8 C415.3,144.5 414.3,143.0 413.8,141.6" fill="none" stroke="#1c1c1c" stroke-width="8.15" stroke-linecap="round" stroke-linejoin="round"/>
<path d="M378.6,138.5 C377.9,139.8 376.6,141.1 376.4,142.4 C376.2,143.8 376.5,145.3 377.3,146.7 C378.1,148.0 379.5,149.4 381.2,150.5 C382.9,151.7 385.1,152.7 387.4,153.5 C389.6,154.2 392.4,154.7 394.9,155.0 C397.4,155.2 400.2,155.1 402.5,154.8 C404.9,154.5 407.3,153.8 409.1,153.0 C411.0,152.2 412.6,151.0 413.6,149.8 C414.6,148.6 415.2,147.2 415.2,145.8 C415.3,144.5 414.3,143.0 413.8,141.6" fill="none" stroke="#fff" stroke-width="5.85" stroke-linecap="round" stroke-linejoin="round"/>
<path d="M390.8,100.0 C389.8,101.8 388.8,103.6 387.9,105.4 C387.0,107.2 386.2,108.4 385.3,110.7 C384.4,113.0 383.7,116.3 382.7,119.2 C381.7,122.0 380.4,125.1 379.4,127.8 C378.4,130.5 377.7,133.0 376.8,135.6 L376.8,135.6 C377.4,137.0 377.4,138.5 378.5,139.8 C379.7,141.1 381.5,142.4 383.7,143.4 C385.8,144.4 388.6,145.3 391.5,145.9 C394.3,146.5 397.6,146.9 400.7,147.0 C403.8,147.1 407.2,146.9 410.0,146.5 C412.9,146.0 415.8,145.3 418.0,144.4 C420.2,143.5 422.1,142.3 423.3,141.0 C424.6,139.8 424.6,138.3 425.3,137.0 L425.3,137.0 C426.3,135.9 427.5,135.0 428.2,133.8 C428.8,132.6 428.7,130.9 429.3,129.7 C429.9,128.5 431.1,127.6 431.5,126.4 C432.0,125.2 431.5,123.6 431.9,122.5 C432.3,121.4 433.5,120.6 433.9,119.5 C434.2,118.5 433.6,117.1 433.9,116.0 C434.2,114.9 435.3,114.0 435.5,112.9 C435.7,111.8 435.0,110.3 435.2,109.4 C435.4,108.5 436.5,108.1 436.6,107.4 C436.7,106.6 436.2,105.8 436.0,105.0 Z" fill="#fff" stroke="none"/>
<path d="M390.8,100.0 C389.8,101.8 388.8,103.6 387.9,105.4 C387.0,107.2 386.2,108.4 385.3,110.7 C384.4,113.0 383.7,116.3 382.7,119.2 C381.7,122.0 380.4,125.1 379.4,127.8 C378.4,130.5 377.7,133.0 376.8,135.6" fill="none" stroke="#1c1c1c" stroke-width="1.15" stroke-linejoin="round" stroke-linecap="round" />
<path d="M425.3,137.0 C426.3,135.9 427.5,135.0 428.2,133.8 C428.8,132.6 428.7,130.9 429.3,129.7 C429.9,128.5 431.1,127.6 431.5,126.4 C432.0,125.2 431.5,123.6 431.9,122.5 C432.3,121.4 433.5,120.6 433.9,119.5 C434.2,118.5 433.6,117.1 433.9,116.0 C434.2,114.9 435.3,114.0 435.5,112.9 C435.7,111.8 435.0,110.3 435.2,109.4 C435.4,108.5 436.5,108.1 436.6,107.4 C436.7,106.6 436.2,105.8 436.0,105.0" fill="none" stroke="#1c1c1c" stroke-width="1.15" stroke-linejoin="round" stroke-linecap="round" />
<path d="M387.9,105.4 C388.4,107.0 388.3,108.6 389.3,110.1 C390.4,111.5 392.1,113.1 394.1,114.3 C396.2,115.5 398.8,116.7 401.6,117.5 C404.3,118.3 407.5,118.9 410.6,119.2 C413.6,119.4 416.8,119.4 419.7,119.0 C422.5,118.7 425.3,118.0 427.6,117.1 C429.8,116.2 431.7,115.0 433.0,113.7 C434.3,112.5 434.5,110.8 435.2,109.4" fill="none" stroke="#1c1c1c" stroke-width="1.15" stroke-linejoin="round" stroke-linecap="round" />
<path d="M385.3,110.7 C385.7,112.3 385.6,114.1 386.6,115.6 C387.7,117.2 389.4,118.9 391.5,120.2 C393.5,121.6 396.3,122.9 399.1,123.8 C401.9,124.7 405.2,125.4 408.3,125.7 C411.4,126.1 414.7,126.1 417.7,125.8 C420.6,125.5 423.5,124.9 425.8,124.0 C428.1,123.1 430.2,121.9 431.5,120.5 C432.9,119.2 433.1,117.5 433.9,116.0" fill="none" stroke="#1c1c1c" stroke-width="1.15" stroke-linejoin="round" stroke-linecap="round" />
<path d="M382.7,119.2 C383.2,120.8 383.2,122.5 384.3,124.0 C385.4,125.5 387.2,127.0 389.3,128.3 C391.5,129.5 394.3,130.6 397.1,131.4 C400.0,132.2 403.3,132.8 406.5,133.0 C409.6,133.2 413.0,133.1 416.0,132.7 C418.9,132.3 421.8,131.5 424.1,130.6 C426.4,129.6 428.4,128.4 429.7,127.0 C431.0,125.7 431.2,124.0 431.9,122.5" fill="none" stroke="#1c1c1c" stroke-width="1.15" stroke-linejoin="round" stroke-linecap="round" />
<path d="M379.4,127.8 C380.0,129.4 380.0,131.0 381.1,132.5 C382.3,134.0 384.2,135.5 386.4,136.7 C388.6,137.8 391.5,138.9 394.4,139.6 C397.3,140.3 400.7,140.8 403.9,140.9 C407.1,141.0 410.5,140.8 413.5,140.3 C416.4,139.8 419.4,139.0 421.7,138.0 C424.0,137.0 426.0,135.7 427.2,134.3 C428.5,132.9 428.6,131.2 429.3,129.7" fill="none" stroke="#1c1c1c" stroke-width="1.15" stroke-linejoin="round" stroke-linecap="round" />
<path d="M376.8,135.6 C377.4,137.0 377.4,138.5 378.5,139.8 C379.7,141.1 381.5,142.4 383.7,143.4 C385.8,144.4 388.6,145.3 391.5,145.9 C394.3,146.5 397.6,146.9 400.7,147.0 C403.8,147.1 407.2,146.9 410.0,146.5 C412.9,146.0 415.8,145.3 418.0,144.4 C420.2,143.5 422.1,142.3 423.3,141.0 C424.6,139.8 424.6,138.3 425.3,137.0" fill="none" stroke="#1c1c1c" stroke-width="1.15" stroke-linejoin="round" stroke-linecap="round" />
<path d="M390.6,101 Q390.5,94 397,90 Q409,84.5 423,88.5 Q434,93.5 436,106 L435.6,110 Q425,118 413.5,116.2 Q398.5,113 390.6,101 Z" fill="#fff" stroke="#1c1c1c" stroke-width="1.15" stroke-linejoin="round" stroke-linecap="round" />
<path d="M391.2,97.5 Q401,110.5 414,113.2 Q426,114.5 435.8,106" fill="none" stroke="#1c1c1c" stroke-width="0.9" stroke-linejoin="round" stroke-linecap="round" />
<path d="M396,99.5 Q394,94.5 399.5,92.5 Q401,98.5 398,102 M400.5,92 Q404.5,90.5 406.5,93 M402,103.5 Q412,110.5 424.5,109.5 M413,107.5 Q420,106 424.5,107.5" fill="none" stroke="#1c1c1c" stroke-width="0.8" stroke-linejoin="round" stroke-linecap="round" />
<g transform="translate(413.8 89.6) rotate(-25.0)">
<path d="M0,-10.4 L13,-10.4 A6.8,10.4 0 0 1 13,10.4 L0,10.4 Z" fill="#fff" stroke="#1c1c1c" stroke-width="1.15" stroke-linejoin="round" stroke-linecap="round" />
<ellipse cx="0.0" cy="0.0" rx="6.8" ry="10.4" transform="rotate(0.0 0.0 0.0)" fill="#fff" stroke="#1c1c1c" stroke-width="1.15"/>
<ellipse cx="0.3" cy="0.0" rx="4.6" ry="7.2" transform="rotate(0.0 0.3 0.0)" fill="#fff" stroke="#1c1c1c" stroke-width="1.15"/>
<ellipse cx="0.6" cy="0.0" rx="2.7" ry="4.1" transform="rotate(0.0 0.6 0.0)" fill="#fff" stroke="#1c1c1c" stroke-width="1.15"/>
</g>
<path d="M365,176.5 Q378,186 395.2,187.6 L393.4,193.6 Q377,191 364,183 Z" fill="#fff" stroke="#1c1c1c" stroke-width="0.9" stroke-linejoin="round" stroke-linecap="round" />
<path d="M371.5,182.6 L370.6,186.4 M379.5,186.2 L378.7,190 M387.5,188.6 L386.8,192.4" fill="none" stroke="#1c1c1c" stroke-width="0.9" stroke-linejoin="round" stroke-linecap="round" />
<path d="M366.6,185.1 L358.6,208.5 L359.4,210.7 Q370,211 377.8,218.6 L379.7,210.7 L384.5,198 L387.5,199.5 Q390,199 390.5,196.5 L391.6,195.6 L392.5,192.5 Z" fill="#fff" stroke="#1c1c1c" stroke-width="1.15" stroke-linejoin="round" stroke-linecap="round" />
<path d="M367.9,187.1 L368.6,198.9 Q370,203 372.5,202.8 Q373.5,199 375.1,194.9" fill="none" stroke="#1c1c1c" stroke-width="0.8" stroke-linejoin="round" stroke-linecap="round" />
<path d="M377.8,192.8 Q380.5,192.3 380.8,195 L378.5,205.8 Q377,208 375.2,206.6 Q374,205.5 374.5,203.5 Z" fill="none" stroke="#1c1c1c" stroke-width="0.8" stroke-linejoin="round" stroke-linecap="round" />
<ellipse cx="378.6" cy="197.5" rx="0.7" ry="1.0" transform="rotate(0.0 378.6 197.5)" fill="none" stroke="#1c1c1c" stroke-width="0.8"/>
<ellipse cx="376.9" cy="203.3" rx="0.7" ry="1.0" transform="rotate(0.0 376.9 203.3)" fill="none" stroke="#1c1c1c" stroke-width="0.8"/>
<g transform="translate(358.1 221.2) rotate(-22.0)">
<path d="M0,-10.8 L13.5,-10.8 A7.2,10.8 0 0 1 13.5,10.8 L0,10.8 Z" fill="#fff" stroke="#1c1c1c" stroke-width="1.15" stroke-linejoin="round" stroke-linecap="round" />
<ellipse cx="0.0" cy="0.0" rx="7.2" ry="10.8" transform="rotate(0.0 0.0 0.0)" fill="#fff" stroke="#1c1c1c" stroke-width="1.15"/>
<ellipse cx="0.3" cy="0.0" rx="5.0" ry="7.6" transform="rotate(0.0 0.3 0.0)" fill="#fff" stroke="#1c1c1c" stroke-width="1.15"/>
<ellipse cx="0.6" cy="0.0" rx="3.1" ry="4.5" transform="rotate(0.0 0.6 0.0)" fill="#fff" stroke="#1c1c1c" stroke-width="1.15"/>
</g>
<path d="M366.5,215 L373,214.6 Q372.5,220 369.5,223 Z" fill="none" stroke="#1c1c1c" stroke-width="0.8" stroke-linejoin="round" stroke-linecap="round" />
<path d="M676,150 L712,133 L734,172 L698,190 Z" fill="#fff" stroke="#1c1c1c" stroke-width="0.8" stroke-linejoin="round" stroke-linecap="round" />
<path d="M682,152.5 L701,186 M704,139 L724,176" fill="none" stroke="#1c1c1c" stroke-width="0.8" stroke-linejoin="round" stroke-linecap="round" />
<path d="M687.5,192.8 C691.5,194.0 695.7,196.1 699.6,196.4 C703.5,196.6 707.1,195.8 711.0,194.3 C714.9,192.7 718.8,190.3 723.0,187.3 C727.2,184.2 731.7,179.6 736.0,175.8" fill="none" stroke="#1c1c1c" stroke-width="5.15" stroke-linecap="round" stroke-linejoin="round"/>
<path d="M687.5,192.8 C691.5,194.0 695.7,196.1 699.6,196.4 C703.5,196.6 707.1,195.8 711.0,194.3 C714.9,192.7 718.8,190.3 723.0,187.3 C727.2,184.2 731.7,179.6 736.0,175.8" fill="none" stroke="#fff" stroke-width="2.85" stroke-linecap="round" stroke-linejoin="round"/>
<path d="M682.0,181.0 C682.5,182.5 682.2,184.3 683.5,185.5 C684.8,186.7 687.5,187.6 689.9,188.1 C692.3,188.6 695.3,188.7 698.0,188.5 C700.7,188.3 702.2,188.9 706.3,187.0 C710.4,185.1 718.5,180.8 722.7,177.1 C726.9,173.5 730.6,167.8 731.5,165.1 C732.4,162.5 729.2,162.5 728.0,161.1" fill="none" stroke="#1c1c1c" stroke-width="9.15" stroke-linecap="round" stroke-linejoin="round"/>
<path d="M682.0,181.0 C682.5,182.5 682.2,184.3 683.5,185.5 C684.8,186.7 687.5,187.6 689.9,188.1 C692.3,188.6 695.3,188.7 698.0,188.5 C700.7,188.3 702.2,188.9 706.3,187.0 C710.4,185.1 718.5,180.8 722.7,177.1 C726.9,173.5 730.6,167.8 731.5,165.1 C732.4,162.5 729.2,162.5 728.0,161.1" fill="none" stroke="#fff" stroke-width="6.85" stroke-linecap="round" stroke-linejoin="round"/>
<path d="M677.0,171.5 C677.5,173.0 677.2,175.1 678.5,176.0 C679.8,177.0 682.7,177.1 685.0,177.1 C687.3,177.2 689.9,176.8 692.5,176.3 C695.1,175.8 697.5,174.9 700.8,174.0 C704.1,173.1 708.7,172.5 712.2,170.9 C715.7,169.3 719.4,166.5 722.0,164.5 C724.6,162.5 726.5,160.8 728.0,159.0 C729.5,157.3 731.1,155.6 731.0,154.1 C730.9,152.6 728.7,151.5 727.5,150.1" fill="none" stroke="#1c1c1c" stroke-width="9.15" stroke-linecap="round" stroke-linejoin="round"/>
<path d="M677.0,171.5 C677.5,173.0 677.2,175.1 678.5,176.0 C679.8,177.0 682.7,177.1 685.0,177.1 C687.3,177.2 689.9,176.8 692.5,176.3 C695.1,175.8 697.5,174.9 700.8,174.0 C704.1,173.1 708.7,172.5 712.2,170.9 C715.7,169.3 719.4,166.5 722.0,164.5 C724.6,162.5 726.5,160.8 728.0,159.0 C729.5,157.3 731.1,155.6 731.0,154.1 C730.9,152.6 728.7,151.5 727.5,150.1" fill="none" stroke="#fff" stroke-width="6.85" stroke-linecap="round" stroke-linejoin="round"/>
<path d="M669.8,158.5 C670.3,160.0 669.5,162.1 671.3,163.0 C673.1,164.0 677.1,164.2 680.6,164.1 C684.1,164.0 688.4,163.7 692.5,162.5 C696.6,161.3 701.1,159.1 705.0,157.0 C709.0,155.0 713.2,152.5 716.2,150.1 C719.2,147.7 722.5,144.5 723.0,142.5 C723.6,140.6 720.7,139.9 719.5,138.5" fill="none" stroke="#1c1c1c" stroke-width="9.15" stroke-linecap="round" stroke-linejoin="round"/>
<path d="M669.8,158.5 C670.3,160.0 669.5,162.1 671.3,163.0 C673.1,164.0 677.1,164.2 680.6,164.1 C684.1,164.0 688.4,163.7 692.5,162.5 C696.6,161.3 701.1,159.1 705.0,157.0 C709.0,155.0 713.2,152.5 716.2,150.1 C719.2,147.7 722.5,144.5 723.0,142.5 C723.6,140.6 720.7,139.9 719.5,138.5" fill="none" stroke="#fff" stroke-width="6.85" stroke-linecap="round" stroke-linejoin="round"/>
<path d="M634.2,88.0 C634.4,90.8 633.9,93.2 634.8,96.4 C635.7,99.6 638.2,104.1 639.7,107.4 C641.2,110.7 642.5,113.0 644.1,116.1 C645.7,119.2 647.8,123.2 649.5,126.0 C651.2,128.8 652.7,130.6 654.2,133.2 C655.8,135.8 657.1,138.7 658.8,141.8 C660.5,144.9 662.6,148.4 664.5,151.7 L664.5,151.7 C667.0,152.3 669.0,153.2 672.0,153.4 C675.0,153.6 679.3,153.7 682.8,152.9 C686.3,152.1 689.7,150.3 693.0,148.5 C696.3,146.7 699.6,144.4 702.5,142.0 C705.4,139.6 708.7,136.5 710.5,134.0 C712.3,131.5 712.9,128.9 713.2,127.1 C713.5,125.3 712.7,124.7 712.5,123.5 L712.5,123.5 C712.2,122.5 712.3,121.2 711.7,120.5 C711.1,119.7 709.6,119.8 709.0,118.9 C708.4,118.0 708.7,116.3 708.1,115.3 C707.4,114.3 705.8,114.1 705.1,113.0 C704.5,111.8 704.7,109.8 704.0,108.5 C703.3,107.3 701.5,106.6 700.8,105.3 C700.0,104.1 700.3,102.3 699.6,101.2 C698.9,100.0 697.3,99.3 696.4,98.3 C695.5,97.2 695.3,95.8 694.4,95.0 C693.4,94.2 691.6,94.6 690.8,93.5 C689.9,92.4 690.1,89.8 689.3,88.3 C688.4,86.8 686.3,85.5 685.7,84.3 C685.2,83.1 686.3,81.9 686.0,80.8 C685.7,79.8 684.7,78.9 684.0,78.0 Z" fill="#fff" stroke="none"/>
<path d="M634.2,88.0 C634.4,90.8 633.9,93.2 634.8,96.4 C635.7,99.6 638.2,104.1 639.7,107.4 C641.2,110.7 642.5,113.0 644.1,116.1 C645.7,119.2 647.8,123.2 649.5,126.0 C651.2,128.8 652.7,130.6 654.2,133.2 C655.8,135.8 657.1,138.7 658.8,141.8 C660.5,144.9 662.6,148.4 664.5,151.7" fill="none" stroke="#1c1c1c" stroke-width="1.15" stroke-linejoin="round" stroke-linecap="round" />
<path d="M712.5,123.5 C712.2,122.5 712.3,121.2 711.7,120.5 C711.1,119.7 709.6,119.8 709.0,118.9 C708.4,118.0 708.7,116.3 708.1,115.3 C707.4,114.3 705.8,114.1 705.1,113.0 C704.5,111.8 704.7,109.8 704.0,108.5 C703.3,107.3 701.5,106.6 700.8,105.3 C700.0,104.1 700.3,102.3 699.6,101.2 C698.9,100.0 697.3,99.3 696.4,98.3 C695.5,97.2 695.3,95.8 694.4,95.0 C693.4,94.2 691.6,94.6 690.8,93.5 C689.9,92.4 690.1,89.8 689.3,88.3 C688.4,86.8 686.3,85.5 685.7,84.3 C685.2,83.1 686.3,81.9 686.0,80.8 C685.7,79.8 684.7,78.9 684.0,78.0" fill="none" stroke="#1c1c1c" stroke-width="1.15" stroke-linejoin="round" stroke-linecap="round" />
<path d="M634.8,96.4 C637.5,99.1 640.0,102.5 643.0,104.5 C646.0,106.5 649.5,107.7 652.8,108.4 C656.1,109.1 659.7,108.9 663.0,108.6 C666.3,108.2 669.5,107.6 672.5,106.3 C675.5,105.0 678.7,103.3 681.0,101.0 C683.3,98.7 685.7,95.4 686.5,92.6 C687.3,89.8 686.0,87.1 685.7,84.3" fill="none" stroke="#1c1c1c" stroke-width="1.15" stroke-linejoin="round" stroke-linecap="round" />
<path d="M639.7,107.4 C642.1,109.3 644.3,111.5 647.0,113.0 C649.7,114.5 652.8,115.6 656.1,116.1 C659.4,116.6 663.5,116.3 667.0,115.8 C670.5,115.2 673.6,114.5 676.9,112.8 C680.2,111.1 684.3,108.3 687.0,105.5 C689.7,102.7 692.5,97.9 693.1,95.9 C693.7,93.9 691.5,94.3 690.8,93.5" fill="none" stroke="#1c1c1c" stroke-width="1.15" stroke-linejoin="round" stroke-linecap="round" />
<path d="M644.1,116.1 C646.7,117.6 649.1,119.4 652.0,120.5 C654.9,121.6 658.3,122.4 661.6,122.7 C664.9,123.0 668.7,123.0 672.0,122.6 C675.3,122.2 678.0,122.0 681.3,120.5 C684.5,119.0 688.8,116.5 691.5,113.5 C694.2,110.5 696.7,105.0 697.5,102.5 C698.3,100.0 696.8,99.7 696.4,98.3" fill="none" stroke="#1c1c1c" stroke-width="1.15" stroke-linejoin="round" stroke-linecap="round" />
<path d="M649.5,126.0 C652.0,126.9 654.2,128.1 657.0,128.8 C659.8,129.5 662.7,130.1 666.0,130.3 C669.3,130.5 673.4,130.4 677.0,129.8 C680.6,129.2 684.5,128.6 687.8,127.0 C691.1,125.4 694.6,122.8 697.0,120.0 C699.4,117.2 701.3,112.5 701.9,110.1 C702.5,107.7 701.2,106.9 700.8,105.3" fill="none" stroke="#1c1c1c" stroke-width="1.15" stroke-linejoin="round" stroke-linecap="round" />
<path d="M654.2,133.2 C656.8,134.1 659.0,135.2 662.0,135.8 C665.0,136.4 668.4,136.8 671.9,136.7 C675.4,136.6 679.6,135.9 683.0,135.0 C686.4,134.1 689.2,133.2 692.2,131.5 C695.2,129.8 698.7,127.3 701.0,125.0 C703.3,122.7 705.5,119.8 706.2,117.8 C706.9,115.8 705.5,114.6 705.1,113.0" fill="none" stroke="#1c1c1c" stroke-width="1.15" stroke-linejoin="round" stroke-linecap="round" />
<path d="M658.8,141.8 C661.5,142.4 663.9,143.2 667.0,143.5 C670.1,143.8 673.9,144.1 677.4,143.6 C680.9,143.1 684.5,142.0 688.0,140.5 C691.5,139.0 695.4,136.7 698.4,134.5 C701.4,132.3 704.1,129.7 706.0,127.5 C707.9,125.3 709.0,123.0 709.5,121.6 C710.0,120.2 709.2,119.8 709.0,118.9" fill="none" stroke="#1c1c1c" stroke-width="1.15" stroke-linejoin="round" stroke-linecap="round" />
<path d="M664.5,151.7 C667.0,152.3 669.0,153.2 672.0,153.4 C675.0,153.6 679.3,153.7 682.8,152.9 C686.3,152.1 689.7,150.3 693.0,148.5 C696.3,146.7 699.6,144.4 702.5,142.0 C705.4,139.6 708.7,136.5 710.5,134.0 C712.3,131.5 712.9,128.9 713.2,127.1 C713.5,125.3 712.7,124.7 712.5,123.5" fill="none" stroke="#1c1c1c" stroke-width="1.15" stroke-linejoin="round" stroke-linecap="round" />
<path d="M713.5,123.5 Q719,128.5 716.8,137.5" fill="none" stroke="#1c1c1c" stroke-width="1.15" stroke-linejoin="round" stroke-linecap="round" />
<path d="M703,198.8 L707,196.8 M713,194.5 L725.5,188 M728.5,186 L735,180.5" fill="none" stroke="#1c1c1c" stroke-width="1.2" stroke-linejoin="round" stroke-linecap="round" />
<path d="M636.4,82.7 L634.2,92.5 Q640,108 660,108.4 Q678,106 688,92 L696.6,94.7 L690,83.8 Q684,72 676.9,68.4 Q672,66 667,66.3 Z" fill="#fff" stroke="#1c1c1c" stroke-width="1.15" stroke-linejoin="round" stroke-linecap="round" />
<path d="M667,75 Q673,76 675.5,80 L678,88.1 Q680,92 682.5,90.5 Q685,88 684.6,84 M688,88 Q688.5,92 686,96" fill="none" stroke="#1c1c1c" stroke-width="0.9" stroke-linejoin="round" stroke-linecap="round" />
<path d="M643.5,87 L643.5,92.5 Q645,98 649.5,99.1 Q660,101 673.6,94.7 Q675.5,97.5 672,100 Q662,105 650,103.5" fill="none" stroke="#1c1c1c" stroke-width="0.9" stroke-linejoin="round" stroke-linecap="round" />
<path d="M661.6,58.1 Q655,52 647.4,52 Q640,53.5 636.4,58.6 Q632.4,63 632.6,67.4 Q632.4,76 636.4,81.6 Q644,86 652.8,86.2 Z" fill="#fff" stroke="#1c1c1c" stroke-width="1.15" stroke-linejoin="round" stroke-linecap="round" />
<ellipse cx="657.6" cy="72.3" rx="8.2" ry="14.5" transform="rotate(17.5 657.6 72.3)" fill="#fff" stroke="#1c1c1c" stroke-width="1.15"/>
<ellipse cx="657.5" cy="72.6" rx="5.6" ry="10.3" transform="rotate(17.5 657.5 72.6)" fill="none" stroke="#1c1c1c" stroke-width="1.15"/>
<path d="M650.6,63.5 L661.6,57.5" fill="none" stroke="#1c1c1c" stroke-width="0.9" stroke-linejoin="round" stroke-linecap="round" />
<path d="M656,67 Q660.5,65.5 661,71.5 Q660.5,78 656.5,80 Q653.5,79.5 654,74 M657.5,70 Q655.5,73.5 657.5,77" fill="none" stroke="#1c1c1c" stroke-width="1.0" stroke-linejoin="round" stroke-linecap="round" />
<path d="M703.1,200.9 L709.7,209.7 L717.4,213 L721.7,221.7 L732.7,232.1 L749.1,227.2 L752.4,222.8 L743.6,206.4 L744.7,204.2 L749.1,200.9 L737,181 Z" fill="#fff" stroke="#1c1c1c" stroke-width="1.15" stroke-linejoin="round" stroke-linecap="round" />
<path d="M722.8,203.1 Q723,200.5 726,200 L736,198.8 L740.3,200.9 L743.6,206.4 M722.8,203.1 L728.3,216.3 L721.7,215.2" fill="none" stroke="#1c1c1c" stroke-width="0.9" stroke-linejoin="round" stroke-linecap="round" />
<path d="M727.6,204 Q729.5,202.5 731.5,204.5 L738,216.5 Q738.5,219.5 736,219.8 Q734,219.8 733,218 L727.2,207 Q726.5,205 727.6,204 Z" fill="none" stroke="#1c1c1c" stroke-width="0.9" stroke-linejoin="round" stroke-linecap="round" />
<ellipse cx="729.9" cy="209.1" rx="0.8" ry="1.1" transform="rotate(0.0 729.9 209.1)" fill="none" stroke="#1c1c1c" stroke-width="0.8"/>
<ellipse cx="734.9" cy="215.7" rx="0.8" ry="1.1" transform="rotate(0.0 734.9 215.7)" fill="none" stroke="#1c1c1c" stroke-width="0.8"/>
<path d="M741.4,230.5 L732.7,232.7 Q731.5,238 733.8,241.4 Q738,247 746,249.4 L752,249.5 Z" fill="#fff" stroke="#1c1c1c" stroke-width="1.15" stroke-linejoin="round" stroke-linecap="round" />
<ellipse cx="752.9" cy="238.1" rx="10.2" ry="11.8" transform="rotate(-25.0 752.9 238.1)" fill="#fff" stroke="#1c1c1c" stroke-width="1.15"/>
<ellipse cx="752.9" cy="238.3" rx="7.4" ry="8.4" transform="rotate(-25.0 752.9 238.3)" fill="none" stroke="#1c1c1c" stroke-width="1.15"/>
<ellipse cx="752.9" cy="238.5" rx="4.6" ry="5.2" transform="rotate(-25.0 752.9 238.5)" fill="none" stroke="#1c1c1c" stroke-width="1.15"/>
<ellipse cx="752.9" cy="238.6" rx="2.8" ry="3.2" transform="rotate(-25.0 752.9 238.6)" fill="none" stroke="#1c1c1c" stroke-width="1.15"/>
<path d="M737.5,432.0 C741.0,430.0 744.2,427.8 748.0,426.0 C751.8,424.2 756.3,422.7 760.0,421.5 C763.7,420.3 767.1,419.3 770.0,419.0 C772.9,418.7 775.0,419.3 777.5,419.5" fill="none" stroke="#1c1c1c" stroke-width="7.15" stroke-linecap="round" stroke-linejoin="round"/>
<path d="M737.5,432.0 C741.0,430.0 744.2,427.8 748.0,426.0 C751.8,424.2 756.3,422.7 760.0,421.5 C763.7,420.3 767.1,419.3 770.0,419.0 C772.9,418.7 775.0,419.3 777.5,419.5" fill="none" stroke="#fff" stroke-width="4.85" stroke-linecap="round" stroke-linejoin="round"/>
<path d="M739.0,447.0 C742.7,445.2 746.2,443.1 750.0,441.5 C753.8,439.9 758.3,438.5 762.0,437.5 C765.7,436.5 769.1,435.6 772.0,435.5 C774.9,435.4 777.0,436.5 779.5,437.0" fill="none" stroke="#1c1c1c" stroke-width="7.15" stroke-linecap="round" stroke-linejoin="round"/>
<path d="M739.0,447.0 C742.7,445.2 746.2,443.1 750.0,441.5 C753.8,439.9 758.3,438.5 762.0,437.5 C765.7,436.5 769.1,435.6 772.0,435.5 C774.9,435.4 777.0,436.5 779.5,437.0" fill="none" stroke="#fff" stroke-width="4.85" stroke-linecap="round" stroke-linejoin="round"/>
<path d="M746.7,417 L749,458 L773,456 L769.5,413 Z" fill="#fff" stroke="#1c1c1c" stroke-width="1.15" stroke-linejoin="round" stroke-linecap="round" />
<path d="M737.5,445.5 C737.1,447.0 735.3,448.9 736.5,450.0 C737.6,451.1 741.8,451.5 744.6,452.0 C747.3,452.4 750.2,452.6 752.9,452.6 C755.5,452.5 757.8,452.1 760.6,451.6 C763.3,451.0 766.4,450.4 769.3,449.3 C772.1,448.2 775.0,446.4 777.6,444.9 C780.1,443.4 784.1,441.4 784.6,440.2 C785.0,439.0 781.6,438.5 780.1,437.7" fill="none" stroke="#1c1c1c" stroke-width="8.45" stroke-linecap="round" stroke-linejoin="round"/>
<path d="M737.5,445.5 C737.1,447.0 735.3,448.9 736.5,450.0 C737.6,451.1 741.8,451.5 744.6,452.0 C747.3,452.4 750.2,452.6 752.9,452.6 C755.5,452.5 757.8,452.1 760.6,451.6 C763.3,451.0 766.4,450.4 769.3,449.3 C772.1,448.2 775.0,446.4 777.6,444.9 C780.1,443.4 784.1,441.4 784.6,440.2 C785.0,439.0 781.6,438.5 780.1,437.7" fill="none" stroke="#fff" stroke-width="6.15" stroke-linecap="round" stroke-linejoin="round"/>
<path d="M736.4,428.6 C736.0,430.1 734.7,432.0 735.4,433.1 C736.1,434.2 738.6,434.7 740.6,435.2 C742.6,435.7 744.9,436.2 747.4,436.2 C749.9,436.2 752.8,435.7 755.6,435.2 C758.3,434.6 760.8,434.1 763.8,432.9 C766.8,431.7 770.3,429.9 773.6,427.9 C776.8,425.9 782.2,422.5 783.1,420.9 C783.9,419.3 780.1,419.2 778.6,418.4" fill="none" stroke="#1c1c1c" stroke-width="8.45" stroke-linecap="round" stroke-linejoin="round"/>
<path d="M736.4,428.6 C736.0,430.1 734.7,432.0 735.4,433.1 C736.1,434.2 738.6,434.7 740.6,435.2 C742.6,435.7 744.9,436.2 747.4,436.2 C749.9,436.2 752.8,435.7 755.6,435.2 C758.3,434.6 760.8,434.1 763.8,432.9 C766.8,431.7 770.3,429.9 773.6,427.9 C776.8,425.9 782.2,422.5 783.1,420.9 C783.9,419.3 780.1,419.2 778.6,418.4" fill="none" stroke="#fff" stroke-width="6.15" stroke-linecap="round" stroke-linejoin="round"/>
<path d="M733.2,412.6 C733.2,413.7 732.1,415.1 733.2,416.1 C734.2,417.1 737.2,418.1 739.6,418.7 C741.9,419.3 744.7,419.7 747.4,419.8 C750.0,419.8 752.8,419.4 755.6,419.0 C758.3,418.5 760.9,418.0 763.8,417.0 C766.6,416.0 769.6,414.6 772.6,412.9 C775.5,411.2 779.8,408.5 781.3,406.9 C782.7,405.2 781.3,404.2 781.3,402.9" fill="none" stroke="#1c1c1c" stroke-width="8.45" stroke-linecap="round" stroke-linejoin="round"/>
<path d="M733.2,412.6 C733.2,413.7 732.1,415.1 733.2,416.1 C734.2,417.1 737.2,418.1 739.6,418.7 C741.9,419.3 744.7,419.7 747.4,419.8 C750.0,419.8 752.8,419.4 755.6,419.0 C758.3,418.5 760.9,418.0 763.8,417.0 C766.6,416.0 769.6,414.6 772.6,412.9 C775.5,411.2 779.8,408.5 781.3,406.9 C782.7,405.2 781.3,404.2 781.3,402.9" fill="none" stroke="#fff" stroke-width="6.15" stroke-linecap="round" stroke-linejoin="round"/>
<path d="M729.0,371.0 C728.8,372.3 728.4,373.6 728.5,374.9 C728.6,376.2 729.7,377.4 729.8,378.6 C729.9,379.8 729.1,381.0 729.2,382.2 C729.2,383.4 730.2,384.5 730.3,385.7 C730.4,386.9 729.8,388.2 730.0,389.4 C730.1,390.6 731.3,391.6 731.4,392.8 C731.5,394.0 730.5,395.4 730.5,396.6 C730.5,397.9 731.3,399.2 731.4,400.5 C731.5,401.8 730.9,403.2 731.1,404.4 C731.2,405.7 732.0,406.9 732.5,408.1 L732.5,408.1 C735.0,409.0 737.5,410.2 740.0,410.9 C742.5,411.6 744.8,412.2 747.8,412.3 C750.8,412.4 754.7,412.1 758.0,411.7 C761.3,411.2 763.6,410.9 767.5,409.6 C771.4,408.3 776.6,405.7 781.2,403.8 L781.2,403.8 C781.4,402.4 781.9,401.0 781.8,399.6 C781.7,398.3 780.6,396.9 780.6,395.6 C780.6,394.3 781.5,393.2 781.5,392.0 C781.5,390.8 780.6,389.6 780.6,388.4 C780.6,387.2 781.3,385.8 781.2,384.5 C781.2,383.3 780.2,382.1 780.1,380.8 C780.0,379.5 780.6,378.1 780.4,376.8 C780.3,375.5 779.1,374.2 779.0,373.1 C778.9,372.0 779.7,371.0 779.6,370.0 C779.6,369.0 778.9,368.0 778.5,367.0 Z" fill="#fff" stroke="none"/>
<path d="M729.0,371.0 C728.8,372.3 728.4,373.6 728.5,374.9 C728.6,376.2 729.7,377.4 729.8,378.6 C729.9,379.8 729.1,381.0 729.2,382.2 C729.2,383.4 730.2,384.5 730.3,385.7 C730.4,386.9 729.8,388.2 730.0,389.4 C730.1,390.6 731.3,391.6 731.4,392.8 C731.5,394.0 730.5,395.4 730.5,396.6 C730.5,397.9 731.3,399.2 731.4,400.5 C731.5,401.8 730.9,403.2 731.1,404.4 C731.2,405.7 732.0,406.9 732.5,408.1" fill="none" stroke="#1c1c1c" stroke-width="1.15" stroke-linejoin="round" stroke-linecap="round" />
<path d="M781.2,403.8 C781.4,402.4 781.9,401.0 781.8,399.6 C781.7,398.3 780.6,396.9 780.6,395.6 C780.6,394.3 781.5,393.2 781.5,392.0 C781.5,390.8 780.6,389.6 780.6,388.4 C780.6,387.2 781.3,385.8 781.2,384.5 C781.2,383.3 780.2,382.1 780.1,380.8 C780.0,379.5 780.6,378.1 780.4,376.8 C780.3,375.5 779.1,374.2 779.0,373.1 C778.9,372.0 779.7,371.0 779.6,370.0 C779.6,369.0 778.9,368.0 778.5,367.0" fill="none" stroke="#1c1c1c" stroke-width="1.15" stroke-linejoin="round" stroke-linecap="round" />
<path d="M729.8,378.6 C732.5,379.7 735.0,381.0 738.0,381.8 C741.0,382.6 744.5,383.2 747.8,383.3 C751.1,383.4 754.7,383.1 758.0,382.6 C761.3,382.2 764.0,382.2 767.5,380.6 C771.0,379.0 775.2,375.6 779.0,373.1" fill="none" stroke="#1c1c1c" stroke-width="1.15" stroke-linejoin="round" stroke-linecap="round" />
<path d="M730.3,385.7 C732.9,386.6 735.1,387.7 738.0,388.4 C740.9,389.1 744.5,389.8 747.8,389.9 C751.1,390.0 754.7,389.6 758.0,389.2 C761.3,388.8 763.8,388.6 767.5,387.2 C771.2,385.8 775.9,382.9 780.1,380.8" fill="none" stroke="#1c1c1c" stroke-width="1.15" stroke-linejoin="round" stroke-linecap="round" />
<path d="M731.4,392.8 C733.9,393.8 736.3,395.1 739.0,395.8 C741.7,396.5 744.6,397.1 747.8,397.2 C751.0,397.3 754.7,397.0 758.0,396.5 C761.3,396.0 763.7,395.8 767.5,394.4 C771.3,393.0 776.2,390.4 780.6,388.4" fill="none" stroke="#1c1c1c" stroke-width="1.15" stroke-linejoin="round" stroke-linecap="round" />
<path d="M731.4,400.5 C733.9,401.4 736.3,402.6 739.0,403.3 C741.7,404.0 744.6,404.6 747.8,404.7 C751.0,404.8 754.7,404.5 758.0,404.0 C761.3,403.5 763.7,403.3 767.5,401.9 C771.3,400.5 776.2,397.7 780.6,395.6" fill="none" stroke="#1c1c1c" stroke-width="1.15" stroke-linejoin="round" stroke-linecap="round" />
<path d="M732.5,408.1 C735.0,409.0 737.5,410.2 740.0,410.9 C742.5,411.6 744.8,412.2 747.8,412.3 C750.8,412.4 754.7,412.1 758.0,411.7 C761.3,411.2 763.6,410.9 767.5,409.6 C771.4,408.3 776.6,405.7 781.2,403.8" fill="none" stroke="#1c1c1c" stroke-width="1.15" stroke-linejoin="round" stroke-linecap="round" />
<path d="M729.1,369.9 Q730,365 740.6,362.2 L762,357.5 Q776,360 777.8,366.6 L778.4,369.5 Q766,378.6 753.8,377.8 Q738,377.5 729.3,371.5 Z" fill="#fff" stroke="#1c1c1c" stroke-width="1.15" stroke-linejoin="round" stroke-linecap="round" />
<path d="M729.3,370.2 Q740,375 753.8,374.6 Q766,374.5 778,367.2" fill="none" stroke="#1c1c1c" stroke-width="0.9" stroke-linejoin="round" stroke-linecap="round" />
<path d="M733,368.5 Q736,371.5 739,368 L743,363 M743.5,371.5 L760,369.5 Q768,368.5 772,366.5 M744.5,372.6 L760,371" fill="none" stroke="#1c1c1c" stroke-width="0.9" stroke-linejoin="round" stroke-linecap="round" />
<path d="M746.1,360.5 L740.6,367.1 Q750,370 766.9,363.3 L761.4,356" fill="#fff" stroke="#1c1c1c" stroke-width="0.9" stroke-linejoin="round" stroke-linecap="round" />
<g transform="translate(745.0 349.6) rotate(-24.0)">
<path d="M0,-12.4 L13,-12.4 A7.4,12.4 0 0 1 13,12.4 L0,12.4 Z" fill="#fff" stroke="#1c1c1c" stroke-width="1.15" stroke-linejoin="round" stroke-linecap="round" />
<ellipse cx="0.0" cy="0.0" rx="7.4" ry="12.4" transform="rotate(0.0 0.0 0.0)" fill="#fff" stroke="#1c1c1c" stroke-width="1.15"/>
<ellipse cx="0.3" cy="0.0" rx="5.2" ry="9.0" transform="rotate(0.0 0.3 0.0)" fill="#fff" stroke="#1c1c1c" stroke-width="1.15"/>
<ellipse cx="0.6" cy="0.0" rx="3.2" ry="5.4" transform="rotate(0.0 0.6 0.0)" fill="#fff" stroke="#1c1c1c" stroke-width="1.15"/>
</g>
<path d="M737.4,453.5 Q758,460.5 781,451.5 L780.8,459.6 Q762,463.5 744,461.3 Z" fill="#fff" stroke="#1c1c1c" stroke-width="0.9" stroke-linejoin="round" stroke-linecap="round" />
<path d="M745,459.6 L751,460.1 M755,460.3 L767,459.8 M770.5,459.3 L777,458.2" fill="none" stroke="#1c1c1c" stroke-width="1.2" stroke-linejoin="round" stroke-linecap="round" />
<path d="M744,461 L746.7,469.7 L751.1,471.9 L751.7,485 L756.6,495.5 L774.6,493 L774.6,474.1 L778.5,477.4 L781.2,475.2 L780.6,459.8 Z" fill="#fff" stroke="#1c1c1c" stroke-width="1.15" stroke-linejoin="round" stroke-linecap="round" />
<path d="M758.8,480.6 L759.8,470.8 Q761,468.8 763.5,469 L767.5,470.8 L773,467.5 L774.6,474.1" fill="none" stroke="#1c1c1c" stroke-width="0.9" stroke-linejoin="round" stroke-linecap="round" />
<path d="M761.2,472.5 Q763.3,470 765.4,472.5 L766,485.5 Q764,488.5 762,485.8 Z" fill="none" stroke="#1c1c1c" stroke-width="0.9" stroke-linejoin="round" stroke-linecap="round" />
<ellipse cx="763.3" cy="475.7" rx="0.7" ry="0.9" transform="rotate(0.0 763.3 475.7)" fill="none" stroke="#1c1c1c" stroke-width="0.8"/>
<ellipse cx="763.7" cy="482.3" rx="0.7" ry="0.9" transform="rotate(0.0 763.7 482.3)" fill="none" stroke="#1c1c1c" stroke-width="0.8"/>
<g transform="translate(759.8 510.2) rotate(-13.0)">
<path d="M0,-11.6 L14,-11.6 A8.2,11.6 0 0 1 14,11.6 L0,11.6 Z" fill="#fff" stroke="#1c1c1c" stroke-width="1.15" stroke-linejoin="round" stroke-linecap="round" />
<ellipse cx="0.0" cy="0.0" rx="8.2" ry="11.6" transform="rotate(0.0 0.0 0.0)" fill="#fff" stroke="#1c1c1c" stroke-width="1.15"/>
<ellipse cx="0.3" cy="0.0" rx="5.8" ry="8.4" transform="rotate(0.0 0.3 0.0)" fill="#fff" stroke="#1c1c1c" stroke-width="1.15"/>
<ellipse cx="0.6" cy="0.0" rx="3.6" ry="5.0" transform="rotate(0.0 0.6 0.0)" fill="#fff" stroke="#1c1c1c" stroke-width="1.15"/>
</g>
<path d="M757,507 Q761,506 762,510 Q762,514 759,515" fill="none" stroke="#1c1c1c" stroke-width="0.9" stroke-linejoin="round" stroke-linecap="round" />
<g transform="translate(470.6 64.7) rotate(-24.0)">
<path d="M0,-7.9 L4.2,-9.3 L9.5,-7.0 L12.8,-1.9 L12.8,2.6 L10.0,6.2 L2,7.7 Z" fill="#fff" stroke="#1c1c1c" stroke-width="1.15" stroke-linejoin="round" stroke-linecap="round" />
<path d="M4.2,-9.3 L6.7,-4.9 L12.8,-1.9 M6.7,-4.9 L6.4,3.2 L10.0,6.2 M6.4,3.2 L12.8,2.6" fill="none" stroke="#1c1c1c" stroke-width="0.9199999999999999" stroke-linejoin="round" stroke-linecap="round" />
<ellipse cx="1.6" cy="0.0" rx="5.5" ry="8.2" transform="rotate(0.0 1.6 0.0)" fill="#fff" stroke="#1c1c1c" stroke-width="0.9199999999999999"/>
<ellipse cx="0.0" cy="0.0" rx="6.0" ry="8.8" transform="rotate(0.0 0.0 0.0)" fill="#fff" stroke="#1c1c1c" stroke-width="1.15"/>
<ellipse cx="0.3" cy="0.2" rx="2.6" ry="3.7" transform="rotate(0.0 0.3 0.2)" fill="#fff" stroke="#1c1c1c" stroke-width="1.15"/>
</g>
<g transform="translate(458.3 175.7) rotate(-24.0)">
<path d="M0,-7.9 L4.2,-9.3 L9.5,-7.0 L12.8,-1.9 L12.8,2.6 L10.0,6.2 L2,7.7 Z" fill="#fff" stroke="#1c1c1c" stroke-width="1.15" stroke-linejoin="round" stroke-linecap="round" />
<path d="M4.2,-9.3 L6.7,-4.9 L12.8,-1.9 M6.7,-4.9 L6.4,3.2 L10.0,6.2 M6.4,3.2 L12.8,2.6" fill="none" stroke="#1c1c1c" stroke-width="0.9199999999999999" stroke-linejoin="round" stroke-linecap="round" />
<ellipse cx="1.6" cy="0.0" rx="5.5" ry="8.2" transform="rotate(0.0 1.6 0.0)" fill="#fff" stroke="#1c1c1c" stroke-width="0.9199999999999999"/>
<ellipse cx="0.0" cy="0.0" rx="6.0" ry="8.8" transform="rotate(0.0 0.0 0.0)" fill="#fff" stroke="#1c1c1c" stroke-width="1.15"/>
<ellipse cx="0.3" cy="0.2" rx="2.6" ry="3.7" transform="rotate(0.0 0.3 0.2)" fill="#fff" stroke="#1c1c1c" stroke-width="1.15"/>
</g>
<g transform="translate(609.1 50.7) rotate(204.0)">
<path d="M0,-7.9 L4.2,-9.3 L9.5,-7.0 L12.8,-1.9 L12.8,2.6 L10.0,6.2 L2,7.7 Z" fill="#fff" stroke="#1c1c1c" stroke-width="1.15" stroke-linejoin="round" stroke-linecap="round" />
<path d="M4.2,-9.3 L6.7,-4.9 L12.8,-1.9 M6.7,-4.9 L6.4,3.2 L10.0,6.2 M6.4,3.2 L12.8,2.6" fill="none" stroke="#1c1c1c" stroke-width="0.9199999999999999" stroke-linejoin="round" stroke-linecap="round" />
<ellipse cx="1.6" cy="0.0" rx="5.5" ry="8.2" transform="rotate(0.0 1.6 0.0)" fill="#fff" stroke="#1c1c1c" stroke-width="0.9199999999999999"/>
<ellipse cx="0.0" cy="0.0" rx="6.0" ry="8.8" transform="rotate(0.0 0.0 0.0)" fill="#fff" stroke="#1c1c1c" stroke-width="1.15"/>
<ellipse cx="0.3" cy="0.2" rx="2.6" ry="3.7" transform="rotate(0.0 0.3 0.2)" fill="#fff" stroke="#1c1c1c" stroke-width="1.15"/>
</g>
<g transform="translate(643.9 183.3) rotate(204.0)">
<path d="M0,-7.9 L4.2,-9.3 L9.5,-7.0 L12.8,-1.9 L12.8,2.6 L10.0,6.2 L2,7.7 Z" fill="#fff" stroke="#1c1c1c" stroke-width="1.15" stroke-linejoin="round" stroke-linecap="round" />
<path d="M4.2,-9.3 L6.7,-4.9 L12.8,-1.9 M6.7,-4.9 L6.4,3.2 L10.0,6.2 M6.4,3.2 L12.8,2.6" fill="none" stroke="#1c1c1c" stroke-width="0.9199999999999999" stroke-linejoin="round" stroke-linecap="round" />
<ellipse cx="1.6" cy="0.0" rx="5.5" ry="8.2" transform="rotate(0.0 1.6 0.0)" fill="#fff" stroke="#1c1c1c" stroke-width="0.9199999999999999"/>
<ellipse cx="0.0" cy="0.0" rx="6.0" ry="8.8" transform="rotate(0.0 0.0 0.0)" fill="#fff" stroke="#1c1c1c" stroke-width="1.15"/>
<ellipse cx="0.3" cy="0.2" rx="2.6" ry="3.7" transform="rotate(0.0 0.3 0.2)" fill="#fff" stroke="#1c1c1c" stroke-width="1.15"/>
</g>
<g transform="translate(780.0 331.6) rotate(-24.0)">
<path d="M0,-7.9 L4.2,-9.3 L9.5,-7.0 L12.8,-1.9 L12.8,2.6 L10.0,6.2 L2,7.7 Z" fill="#fff" stroke="#1c1c1c" stroke-width="1.15" stroke-linejoin="round" stroke-linecap="round" />
<path d="M4.2,-9.3 L6.7,-4.9 L12.8,-1.9 M6.7,-4.9 L6.4,3.2 L10.0,6.2 M6.4,3.2 L12.8,2.6" fill="none" stroke="#1c1c1c" stroke-width="0.9199999999999999" stroke-linejoin="round" stroke-linecap="round" />
<ellipse cx="1.6" cy="0.0" rx="5.5" ry="8.2" transform="rotate(0.0 1.6 0.0)" fill="#fff" stroke="#1c1c1c" stroke-width="0.9199999999999999"/>
<ellipse cx="0.0" cy="0.0" rx="6.0" ry="8.8" transform="rotate(0.0 0.0 0.0)" fill="#fff" stroke="#1c1c1c" stroke-width="1.15"/>
<ellipse cx="0.3" cy="0.2" rx="2.6" ry="3.7" transform="rotate(0.0 0.3 0.2)" fill="#fff" stroke="#1c1c1c" stroke-width="1.15"/>
</g>
<g transform="translate(820.1 477.3) rotate(-22.0)">
<path d="M0,-7.9 L4.2,-9.3 L9.5,-7.0 L12.8,-1.9 L12.8,2.6 L10.0,6.2 L2,7.7 Z" fill="#fff" stroke="#1c1c1c" stroke-width="1.15" stroke-linejoin="round" stroke-linecap="round" />
<path d="M4.2,-9.3 L6.7,-4.9 L12.8,-1.9 M6.7,-4.9 L6.4,3.2 L10.0,6.2 M6.4,3.2 L12.8,2.6" fill="none" stroke="#1c1c1c" stroke-width="0.9199999999999999" stroke-linejoin="round" stroke-linecap="round" />
<ellipse cx="1.6" cy="0.0" rx="5.5" ry="8.2" transform="rotate(0.0 1.6 0.0)" fill="#fff" stroke="#1c1c1c" stroke-width="0.9199999999999999"/>
<ellipse cx="0.0" cy="0.0" rx="6.0" ry="8.8" transform="rotate(0.0 0.0 0.0)" fill="#fff" stroke="#1c1c1c" stroke-width="1.15"/>
<ellipse cx="0.3" cy="0.2" rx="2.6" ry="3.7" transform="rotate(0.0 0.3 0.2)" fill="#fff" stroke="#1c1c1c" stroke-width="1.15"/>
</g>
<g transform="translate(371.6 336.6) rotate(-25.0)">
<path d="M0,-6.8 L3.5,-8.0 L7.8,-6.1 L10.5,-1.7 L10.5,2.2 L8.2,5.3 L2,6.6 Z" fill="#fff" stroke="#111" stroke-width="1.7" stroke-linejoin="round" stroke-linecap="round" />
<path d="M3.5,-8.0 L5.5,-4.2 L10.5,-1.7 M5.5,-4.2 L5.2,2.8 L8.2,5.3 M5.2,2.8 L10.5,2.2" fill="none" stroke="#111" stroke-width="1.36" stroke-linejoin="round" stroke-linecap="round" />
<ellipse cx="1.6" cy="0.0" rx="4.8" ry="6.8" transform="rotate(0.0 1.6 0.0)" fill="#fff" stroke="#111" stroke-width="1.36"/>
<ellipse cx="0.0" cy="0.0" rx="5.2" ry="7.3" transform="rotate(0.0 0.0 0.0)" fill="#fff" stroke="#111" stroke-width="1.7"/>
<ellipse cx="0.3" cy="0.2" rx="2.0" ry="2.9" transform="rotate(0.0 0.3 0.2)" fill="#fff" stroke="#111" stroke-width="1.7"/>
</g>
<g transform="translate(417.9 377.9) rotate(-25.0)">
<path d="M0,-6.8 L3.5,-8.0 L7.8,-6.1 L10.5,-1.7 L10.5,2.2 L8.2,5.3 L2,6.6 Z" fill="#fff" stroke="#111" stroke-width="1.7" stroke-linejoin="round" stroke-linecap="round" />
<path d="M3.5,-8.0 L5.5,-4.2 L10.5,-1.7 M5.5,-4.2 L5.2,2.8 L8.2,5.3 M5.2,2.8 L10.5,2.2" fill="none" stroke="#111" stroke-width="1.36" stroke-linejoin="round" stroke-linecap="round" />
<ellipse cx="1.6" cy="0.0" rx="4.8" ry="6.8" transform="rotate(0.0 1.6 0.0)" fill="#fff" stroke="#111" stroke-width="1.36"/>
<ellipse cx="0.0" cy="0.0" rx="5.2" ry="7.3" transform="rotate(0.0 0.0 0.0)" fill="#fff" stroke="#111" stroke-width="1.7"/>
<ellipse cx="0.3" cy="0.2" rx="2.0" ry="2.9" transform="rotate(0.0 0.3 0.2)" fill="#fff" stroke="#111" stroke-width="1.7"/>
</g>
<g transform="translate(394.8 325.9) rotate(-28)">
<ellipse cx="1.6" cy="0.0" rx="7.4" ry="8.2" transform="rotate(0.0 1.6 0.0)" fill="#fff" stroke="#111" stroke-width="2.8"/>
<path d="M2.5,-7.6 Q8,-6 8.6,0 Q8,6 2.5,7.6" fill="none" stroke="#111" stroke-width="2.4" stroke-linejoin="round" stroke-linecap="round" />
<polygon points="3.2,0.0 0.8,5.2 -4.0,5.2 -6.4,0.0 -4.0,-5.2 0.8,-5.2" fill="#fff" stroke="#111" stroke-width="2.2" stroke-linejoin="round"/>
<ellipse cx="-1.6" cy="0.0" rx="2.3" ry="2.8" transform="rotate(0.0 -1.6 0.0)" fill="none" stroke="#111" stroke-width="1.8"/>
<path d="M3.2,0 L6.5,0 M0.8,-5.2 L3.6,-6.4 M0.8,5.2 L3.6,6.4" fill="none" stroke="#111" stroke-width="1.6" stroke-linejoin="round" stroke-linecap="round" />
</g>
<g transform="translate(439.8 369.0) rotate(-28)">
<ellipse cx="1.6" cy="0.0" rx="7.4" ry="8.2" transform="rotate(0.0 1.6 0.0)" fill="#fff" stroke="#111" stroke-width="2.8"/>
<path d="M2.5,-7.6 Q8,-6 8.6,0 Q8,6 2.5,7.6" fill="none" stroke="#111" stroke-width="2.4" stroke-linejoin="round" stroke-linecap="round" />
<polygon points="3.2,0.0 0.8,5.2 -4.0,5.2 -6.4,0.0 -4.0,-5.2 0.8,-5.2" fill="#fff" stroke="#111" stroke-width="2.2" stroke-linejoin="round"/>
<ellipse cx="-1.6" cy="0.0" rx="2.3" ry="2.8" transform="rotate(0.0 -1.6 0.0)" fill="none" stroke="#111" stroke-width="1.8"/>
<path d="M3.2,0 L6.5,0 M0.8,-5.2 L3.6,-6.4 M0.8,5.2 L3.6,6.4" fill="none" stroke="#111" stroke-width="1.6" stroke-linejoin="round" stroke-linecap="round" />
</g>
<line x1="470.3" y1="64.9" x2="461.6" y2="68.5" stroke="#363636" stroke-width="0.95"/>
<line x1="458.0" y1="175.6" x2="450.6" y2="178.9" stroke="#363636" stroke-width="0.95"/>
<line x1="609.5" y1="50.9" x2="617.9" y2="54.0" stroke="#363636" stroke-width="0.95"/>
<line x1="644.2" y1="183.5" x2="652.6" y2="187.7" stroke="#363636" stroke-width="0.95"/>
<line x1="779.7" y1="331.8" x2="775.6" y2="334.3" stroke="#363636" stroke-width="0.95"/>
<line x1="819.8" y1="477.5" x2="813.5" y2="480.6" stroke="#363636" stroke-width="0.95"/>
<line x1="371.4" y1="336.9" x2="366.3" y2="341.2" stroke="#363636" stroke-width="0.95"/>
<line x1="417.6" y1="378.1" x2="413.5" y2="380.7" stroke="#363636" stroke-width="0.95"/>
<text transform="translate(525.0 69.1) scale(1.06 1)" font-size="14.0" text-anchor="middle" stroke="#1a1a1a" stroke-width="0.22">4</text>
<text transform="translate(482.1 113.6) scale(1.06 1)" font-size="15.6" text-anchor="middle" font-weight="bold" stroke="#1a1a1a" stroke-width="0.22">1</text>
<text transform="translate(288.8 114.8) scale(1.06 1)" font-size="14.0" text-anchor="middle" stroke="#1a1a1a" stroke-width="0.22">3</text>
<text transform="translate(504.3 176.6) scale(1.06 1)" font-size="14.0" text-anchor="middle" stroke="#1a1a1a" stroke-width="0.22">4</text>
<text transform="translate(231.6 223.2) scale(1.06 1)" font-size="14.0" text-anchor="middle" stroke="#1a1a1a" stroke-width="0.22">5</text>
<text transform="translate(317.8 228.3) scale(1.06 1)" font-size="14.0" text-anchor="middle" stroke="#1a1a1a" stroke-width="0.22">6</text>
<text transform="translate(151.5 302.3) scale(1.06 1)" font-size="14.0" text-anchor="middle" stroke="#1a1a1a" stroke-width="0.22">3</text>
<text transform="translate(271.7 362.2) scale(1.06 1)" font-size="14.0" text-anchor="middle" stroke="#1a1a1a" stroke-width="0.22">9</text>
<text transform="translate(215.1 454.8) scale(1.06 1)" font-size="14.0" text-anchor="middle" stroke="#1a1a1a" stroke-width="0.22">10</text>
<text transform="translate(360.7 445.7) scale(1.06 1)" font-size="14.0" text-anchor="middle" stroke="#1a1a1a" stroke-width="0.22">9</text>
<text transform="translate(402.8 508.7) scale(1.06 1)" font-size="14.0" text-anchor="middle" stroke="#1a1a1a" stroke-width="0.22">3</text>
<text transform="translate(483.2 507.6) scale(1.06 1)" font-size="14.0" text-anchor="middle" stroke="#1a1a1a" stroke-width="0.22">8</text>
<text transform="translate(552.3 509.4) scale(1.06 1)" font-size="14.0" text-anchor="middle" stroke="#1a1a1a" stroke-width="0.22">7</text>
<text transform="translate(404.3 357.1) scale(1.06 1)" font-size="14.0" text-anchor="middle" stroke="#1a1a1a" stroke-width="0.22">4</text>
<text transform="translate(440.0 269.7) scale(1.06 1)" font-size="14.0" text-anchor="middle" stroke="#1a1a1a" stroke-width="0.22">9</text>
<text transform="translate(542.7 350.4) scale(1.06 1)" font-size="14.0" text-anchor="middle" stroke="#1a1a1a" stroke-width="0.22">9</text>
<text transform="translate(582.4 273.8) scale(1.06 1)" font-size="14.0" text-anchor="middle" stroke="#1a1a1a" stroke-width="0.22">10</text>
<text transform="translate(559.1 51.6) scale(1.06 1)" font-size="14.0" text-anchor="middle" stroke="#1a1a1a" stroke-width="0.22">4</text>
<text transform="translate(622.2 140.0) scale(1.06 1)" font-size="14.0" text-anchor="middle" stroke="#1a1a1a" stroke-width="0.22">2</text>
<text transform="translate(793.4 102.6) scale(1.06 1)" font-size="14.0" text-anchor="middle" stroke="#1a1a1a" stroke-width="0.22">3</text>
<text transform="translate(599.0 186.8) scale(1.06 1)" font-size="14.0" text-anchor="middle" stroke="#1a1a1a" stroke-width="0.22">4</text>
<text transform="translate(821.4 234.8) scale(1.06 1)" font-size="14.0" text-anchor="middle" stroke="#1a1a1a" stroke-width="0.22">3</text>
<text transform="translate(784.6 302.8) scale(1.06 1)" font-size="14.0" text-anchor="middle" stroke="#1a1a1a" stroke-width="0.22">4</text>
<text transform="translate(697.9 327.6) scale(1.06 1)" font-size="14.0" text-anchor="middle" stroke="#1a1a1a" stroke-width="0.22">3</text>
<text transform="translate(816.4 423.8) scale(1.06 1)" font-size="15.6" text-anchor="middle" font-weight="bold" stroke="#1a1a1a" stroke-width="0.22">1</text>
<text transform="translate(837.2 519.2) scale(1.06 1)" font-size="14.0" text-anchor="middle" stroke="#1a1a1a" stroke-width="0.22">4</text>
</svg>
</body></html>
